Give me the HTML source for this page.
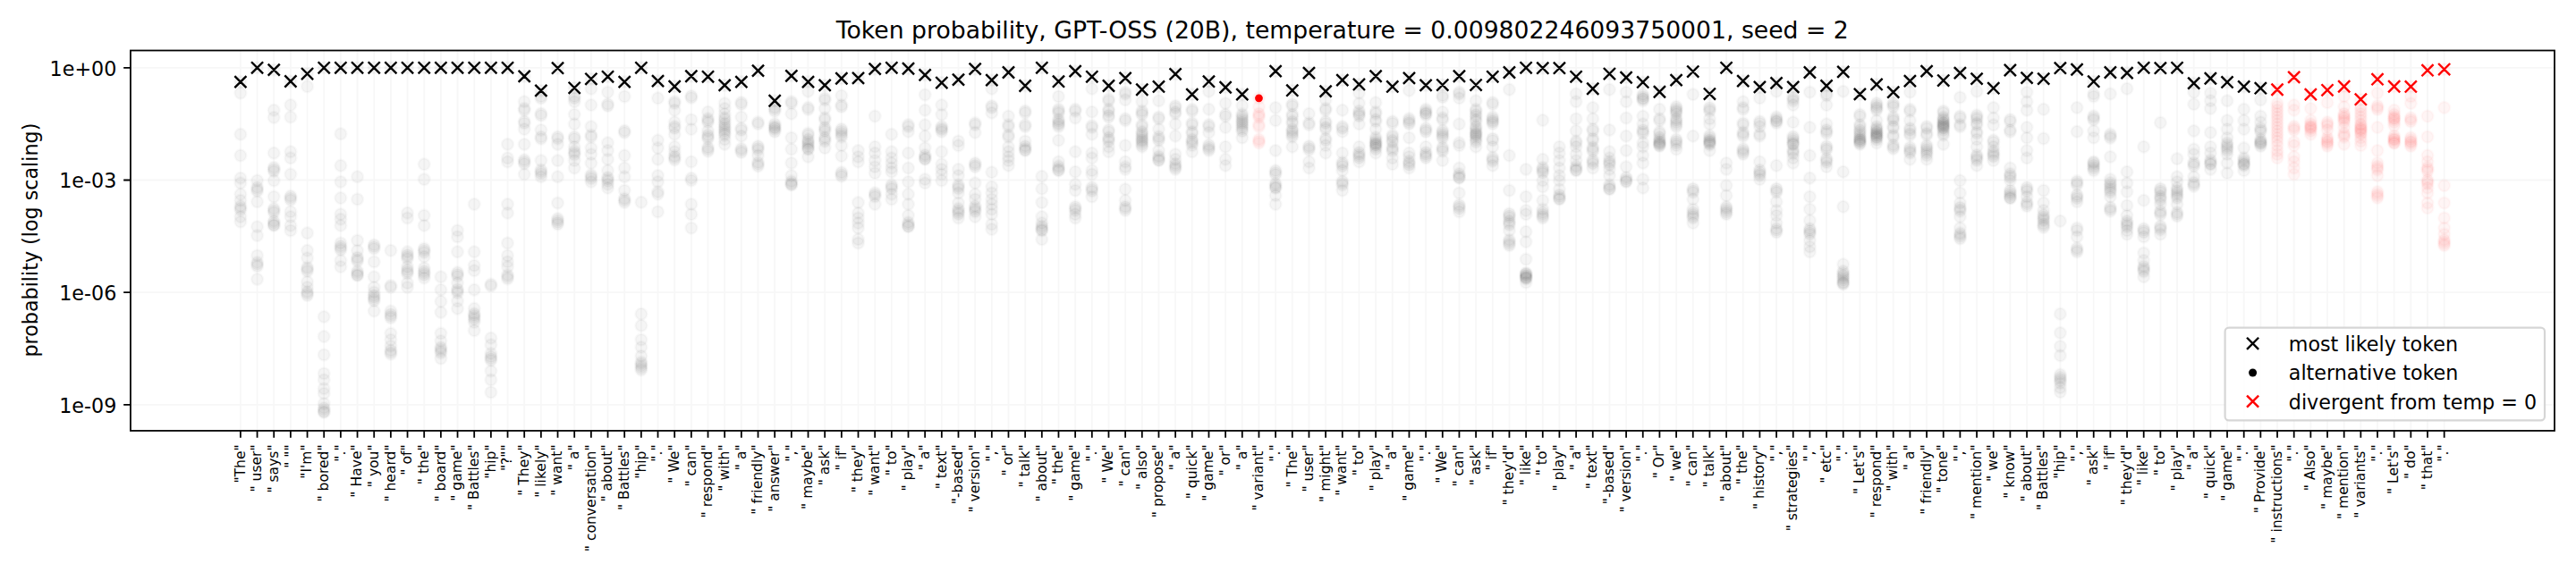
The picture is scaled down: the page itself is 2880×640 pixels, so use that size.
<!DOCTYPE html>
<html><head><meta charset="utf-8"><title>Token probability</title>
<style>html,body{margin:0;padding:0;background:#fff}body{width:2880px;height:640px;overflow:hidden}svg{display:block}</style>
</head><body>
<svg width="2880" height="640" viewBox="0 0 2880 640">
<rect width="2880" height="640" fill="#fff"/>
<path d="M268.90 56.5V481.95M287.56 56.5V481.95M306.23 56.5V481.95M324.89 56.5V481.95M343.56 56.5V481.95M362.22 56.5V481.95M380.89 56.5V481.95M399.55 56.5V481.95M418.22 56.5V481.95M436.88 56.5V481.95M455.55 56.5V481.95M474.21 56.5V481.95M492.88 56.5V481.95M511.54 56.5V481.95M530.21 56.5V481.95M548.88 56.5V481.95M567.54 56.5V481.95M586.20 56.5V481.95M604.87 56.5V481.95M623.53 56.5V481.95M642.20 56.5V481.95M660.87 56.5V481.95M679.53 56.5V481.95M698.19 56.5V481.95M716.86 56.5V481.95M735.52 56.5V481.95M754.19 56.5V481.95M772.86 56.5V481.95M791.52 56.5V481.95M810.18 56.5V481.95M828.85 56.5V481.95M847.51 56.5V481.95M866.18 56.5V481.95M884.84 56.5V481.95M903.51 56.5V481.95M922.17 56.5V481.95M940.84 56.5V481.95M959.50 56.5V481.95M978.17 56.5V481.95M996.83 56.5V481.95M1015.50 56.5V481.95M1034.16 56.5V481.95M1052.83 56.5V481.95M1071.49 56.5V481.95M1090.16 56.5V481.95M1108.82 56.5V481.95M1127.49 56.5V481.95M1146.15 56.5V481.95M1164.82 56.5V481.95M1183.48 56.5V481.95M1202.15 56.5V481.95M1220.82 56.5V481.95M1239.48 56.5V481.95M1258.14 56.5V481.95M1276.81 56.5V481.95M1295.47 56.5V481.95M1314.14 56.5V481.95M1332.80 56.5V481.95M1351.47 56.5V481.95M1370.13 56.5V481.95M1388.80 56.5V481.95M1407.47 56.5V481.95M1426.13 56.5V481.95M1444.80 56.5V481.95M1463.46 56.5V481.95M1482.12 56.5V481.95M1500.79 56.5V481.95M1519.45 56.5V481.95M1538.12 56.5V481.95M1556.78 56.5V481.95M1575.45 56.5V481.95M1594.11 56.5V481.95M1612.78 56.5V481.95M1631.44 56.5V481.95M1650.11 56.5V481.95M1668.78 56.5V481.95M1687.44 56.5V481.95M1706.11 56.5V481.95M1724.77 56.5V481.95M1743.43 56.5V481.95M1762.10 56.5V481.95M1780.76 56.5V481.95M1799.43 56.5V481.95M1818.09 56.5V481.95M1836.76 56.5V481.95M1855.42 56.5V481.95M1874.09 56.5V481.95M1892.76 56.5V481.95M1911.42 56.5V481.95M1930.09 56.5V481.95M1948.75 56.5V481.95M1967.41 56.5V481.95M1986.08 56.5V481.95M2004.74 56.5V481.95M2023.41 56.5V481.95M2042.07 56.5V481.95M2060.74 56.5V481.95M2079.40 56.5V481.95M2098.07 56.5V481.95M2116.73 56.5V481.95M2135.40 56.5V481.95M2154.07 56.5V481.95M2172.73 56.5V481.95M2191.39 56.5V481.95M2210.06 56.5V481.95M2228.72 56.5V481.95M2247.39 56.5V481.95M2266.05 56.5V481.95M2284.72 56.5V481.95M2303.38 56.5V481.95M2322.05 56.5V481.95M2340.72 56.5V481.95M2359.38 56.5V481.95M2378.05 56.5V481.95M2396.71 56.5V481.95M2415.38 56.5V481.95M2434.04 56.5V481.95M2452.70 56.5V481.95M2471.37 56.5V481.95M2490.03 56.5V481.95M2508.70 56.5V481.95M2527.36 56.5V481.95M2546.03 56.5V481.95M2564.70 56.5V481.95M2583.36 56.5V481.95M2602.03 56.5V481.95M2620.69 56.5V481.95M2639.36 56.5V481.95M2658.02 56.5V481.95M2676.68 56.5V481.95M2695.35 56.5V481.95M2714.01 56.5V481.95M2732.68 56.5V481.95M145.95 75.85H2856.0M145.95 201.5H2856.0M145.95 327.15H2856.0M145.95 452.95H2856.0" stroke="#b0b0b0" stroke-opacity="0.1" stroke-width="1.78" fill="none"/>
<g fill="#000" stroke="#000" fill-opacity="0.04" stroke-opacity="0.025" stroke-width="2.55">
<circle cx="268.9" cy="104.1" r="6.47"/>
<circle cx="268.9" cy="150.2" r="6.47"/>
<circle cx="268.9" cy="174.0" r="6.47"/>
<circle cx="268.9" cy="199.2" r="6.47"/>
<circle cx="268.9" cy="204.8" r="6.47"/>
<circle cx="268.9" cy="217.3" r="6.47"/>
<circle cx="268.9" cy="224.3" r="6.47"/>
<circle cx="268.9" cy="230.5" r="6.47"/>
<circle cx="268.9" cy="232.7" r="6.47"/>
<circle cx="268.9" cy="234.9" r="6.47"/>
<circle cx="268.9" cy="242.5" r="6.47"/>
<circle cx="268.9" cy="248.1" r="6.47"/>
<circle cx="268.9" cy="91.6" r="6.47"/>
<circle cx="287.6" cy="202.0" r="6.47"/>
<circle cx="287.6" cy="209.5" r="6.47"/>
<circle cx="287.6" cy="211.7" r="6.47"/>
<circle cx="287.6" cy="213.9" r="6.47"/>
<circle cx="287.6" cy="225.7" r="6.47"/>
<circle cx="287.6" cy="253.7" r="6.47"/>
<circle cx="287.6" cy="263.5" r="6.47"/>
<circle cx="287.6" cy="285.9" r="6.47"/>
<circle cx="287.6" cy="293.5" r="6.47"/>
<circle cx="287.6" cy="295.7" r="6.47"/>
<circle cx="287.6" cy="297.9" r="6.47"/>
<circle cx="287.6" cy="312.4" r="6.47"/>
<circle cx="287.6" cy="75.8" r="6.47"/>
<circle cx="306.2" cy="123.3" r="6.47"/>
<circle cx="306.2" cy="131.4" r="6.47"/>
<circle cx="306.2" cy="171.2" r="6.47"/>
<circle cx="306.2" cy="187.2" r="6.47"/>
<circle cx="306.2" cy="189.4" r="6.47"/>
<circle cx="306.2" cy="191.6" r="6.47"/>
<circle cx="306.2" cy="202.0" r="6.47"/>
<circle cx="306.2" cy="220.1" r="6.47"/>
<circle cx="306.2" cy="233.3" r="6.47"/>
<circle cx="306.2" cy="235.5" r="6.47"/>
<circle cx="306.2" cy="237.7" r="6.47"/>
<circle cx="306.2" cy="247.3" r="6.47"/>
<circle cx="306.2" cy="249.5" r="6.47"/>
<circle cx="306.2" cy="251.7" r="6.47"/>
<circle cx="306.2" cy="252.3" r="6.47"/>
<circle cx="306.2" cy="78.1" r="6.47"/>
<circle cx="324.9" cy="117.5" r="6.47"/>
<circle cx="324.9" cy="131.0" r="6.47"/>
<circle cx="324.9" cy="169.8" r="6.47"/>
<circle cx="324.9" cy="176.8" r="6.47"/>
<circle cx="324.9" cy="195.0" r="6.47"/>
<circle cx="324.9" cy="219.3" r="6.47"/>
<circle cx="324.9" cy="221.5" r="6.47"/>
<circle cx="324.9" cy="223.7" r="6.47"/>
<circle cx="324.9" cy="236.9" r="6.47"/>
<circle cx="324.9" cy="242.5" r="6.47"/>
<circle cx="324.9" cy="252.3" r="6.47"/>
<circle cx="324.9" cy="257.9" r="6.47"/>
<circle cx="324.9" cy="91.0" r="6.47"/>
<circle cx="343.6" cy="96.8" r="6.47"/>
<circle cx="343.6" cy="260.7" r="6.47"/>
<circle cx="343.6" cy="280.3" r="6.47"/>
<circle cx="343.6" cy="288.7" r="6.47"/>
<circle cx="343.6" cy="299.1" r="6.47"/>
<circle cx="343.6" cy="301.3" r="6.47"/>
<circle cx="343.6" cy="303.5" r="6.47"/>
<circle cx="343.6" cy="315.2" r="6.47"/>
<circle cx="343.6" cy="321.4" r="6.47"/>
<circle cx="343.6" cy="326.2" r="6.47"/>
<circle cx="343.6" cy="328.4" r="6.47"/>
<circle cx="343.6" cy="330.6" r="6.47"/>
<circle cx="343.6" cy="82.5" r="6.47"/>
<circle cx="362.2" cy="354.4" r="6.47"/>
<circle cx="362.2" cy="376.5" r="6.47"/>
<circle cx="362.2" cy="396.9" r="6.47"/>
<circle cx="362.2" cy="417.9" r="6.47"/>
<circle cx="362.2" cy="424.9" r="6.47"/>
<circle cx="362.2" cy="434.7" r="6.47"/>
<circle cx="362.2" cy="440.3" r="6.47"/>
<circle cx="362.2" cy="451.5" r="6.47"/>
<circle cx="362.2" cy="456.3" r="6.47"/>
<circle cx="362.2" cy="458.5" r="6.47"/>
<circle cx="362.2" cy="460.7" r="6.47"/>
<circle cx="362.2" cy="461.3" r="6.47"/>
<circle cx="362.2" cy="75.8" r="6.47"/>
<circle cx="380.9" cy="149.8" r="6.47"/>
<circle cx="380.9" cy="185.2" r="6.47"/>
<circle cx="380.9" cy="203.4" r="6.47"/>
<circle cx="380.9" cy="221.5" r="6.47"/>
<circle cx="380.9" cy="239.7" r="6.47"/>
<circle cx="380.9" cy="245.3" r="6.47"/>
<circle cx="380.9" cy="252.3" r="6.47"/>
<circle cx="380.9" cy="271.9" r="6.47"/>
<circle cx="380.9" cy="275.3" r="6.47"/>
<circle cx="380.9" cy="277.5" r="6.47"/>
<circle cx="380.9" cy="279.7" r="6.47"/>
<circle cx="380.9" cy="291.5" r="6.47"/>
<circle cx="380.9" cy="298.5" r="6.47"/>
<circle cx="380.9" cy="75.8" r="6.47"/>
<circle cx="399.6" cy="197.8" r="6.47"/>
<circle cx="399.6" cy="222.9" r="6.47"/>
<circle cx="399.6" cy="269.1" r="6.47"/>
<circle cx="399.6" cy="280.3" r="6.47"/>
<circle cx="399.6" cy="287.9" r="6.47"/>
<circle cx="399.6" cy="290.1" r="6.47"/>
<circle cx="399.6" cy="292.3" r="6.47"/>
<circle cx="399.6" cy="303.3" r="6.47"/>
<circle cx="399.6" cy="305.5" r="6.47"/>
<circle cx="399.6" cy="307.7" r="6.47"/>
<circle cx="399.6" cy="308.3" r="6.47"/>
<circle cx="399.6" cy="75.8" r="6.47"/>
<circle cx="418.2" cy="273.9" r="6.47"/>
<circle cx="418.2" cy="276.1" r="6.47"/>
<circle cx="418.2" cy="278.3" r="6.47"/>
<circle cx="418.2" cy="292.9" r="6.47"/>
<circle cx="418.2" cy="309.7" r="6.47"/>
<circle cx="418.2" cy="321.4" r="6.47"/>
<circle cx="418.2" cy="327.0" r="6.47"/>
<circle cx="418.2" cy="330.4" r="6.47"/>
<circle cx="418.2" cy="332.6" r="6.47"/>
<circle cx="418.2" cy="334.8" r="6.47"/>
<circle cx="418.2" cy="336.8" r="6.47"/>
<circle cx="418.2" cy="348.0" r="6.47"/>
<circle cx="418.2" cy="75.8" r="6.47"/>
<circle cx="436.9" cy="280.3" r="6.47"/>
<circle cx="436.9" cy="319.4" r="6.47"/>
<circle cx="436.9" cy="321.4" r="6.47"/>
<circle cx="436.9" cy="348.0" r="6.47"/>
<circle cx="436.9" cy="351.4" r="6.47"/>
<circle cx="436.9" cy="353.6" r="6.47"/>
<circle cx="436.9" cy="355.8" r="6.47"/>
<circle cx="436.9" cy="373.1" r="6.47"/>
<circle cx="436.9" cy="380.1" r="6.47"/>
<circle cx="436.9" cy="387.1" r="6.47"/>
<circle cx="436.9" cy="391.9" r="6.47"/>
<circle cx="436.9" cy="394.1" r="6.47"/>
<circle cx="436.9" cy="396.3" r="6.47"/>
<circle cx="436.9" cy="75.8" r="6.47"/>
<circle cx="455.5" cy="238.3" r="6.47"/>
<circle cx="455.5" cy="243.9" r="6.47"/>
<circle cx="455.5" cy="281.7" r="6.47"/>
<circle cx="455.5" cy="285.1" r="6.47"/>
<circle cx="455.5" cy="287.3" r="6.47"/>
<circle cx="455.5" cy="289.5" r="6.47"/>
<circle cx="455.5" cy="298.5" r="6.47"/>
<circle cx="455.5" cy="301.9" r="6.47"/>
<circle cx="455.5" cy="304.1" r="6.47"/>
<circle cx="455.5" cy="306.3" r="6.47"/>
<circle cx="455.5" cy="316.6" r="6.47"/>
<circle cx="455.5" cy="321.4" r="6.47"/>
<circle cx="455.5" cy="75.8" r="6.47"/>
<circle cx="474.2" cy="183.8" r="6.47"/>
<circle cx="474.2" cy="200.6" r="6.47"/>
<circle cx="474.2" cy="241.1" r="6.47"/>
<circle cx="474.2" cy="252.3" r="6.47"/>
<circle cx="474.2" cy="278.1" r="6.47"/>
<circle cx="474.2" cy="280.3" r="6.47"/>
<circle cx="474.2" cy="282.5" r="6.47"/>
<circle cx="474.2" cy="287.3" r="6.47"/>
<circle cx="474.2" cy="299.9" r="6.47"/>
<circle cx="474.2" cy="303.3" r="6.47"/>
<circle cx="474.2" cy="305.5" r="6.47"/>
<circle cx="474.2" cy="307.7" r="6.47"/>
<circle cx="474.2" cy="311.0" r="6.47"/>
<circle cx="474.2" cy="75.8" r="6.47"/>
<circle cx="492.9" cy="309.7" r="6.47"/>
<circle cx="492.9" cy="324.2" r="6.47"/>
<circle cx="492.9" cy="337.3" r="6.47"/>
<circle cx="492.9" cy="349.4" r="6.47"/>
<circle cx="492.9" cy="373.1" r="6.47"/>
<circle cx="492.9" cy="381.5" r="6.47"/>
<circle cx="492.9" cy="388.5" r="6.47"/>
<circle cx="492.9" cy="390.5" r="6.47"/>
<circle cx="492.9" cy="392.7" r="6.47"/>
<circle cx="492.9" cy="394.9" r="6.47"/>
<circle cx="492.9" cy="401.1" r="6.47"/>
<circle cx="492.9" cy="75.8" r="6.47"/>
<circle cx="511.5" cy="257.9" r="6.47"/>
<circle cx="511.5" cy="264.9" r="6.47"/>
<circle cx="511.5" cy="281.7" r="6.47"/>
<circle cx="511.5" cy="304.7" r="6.47"/>
<circle cx="511.5" cy="306.9" r="6.47"/>
<circle cx="511.5" cy="309.1" r="6.47"/>
<circle cx="511.5" cy="316.6" r="6.47"/>
<circle cx="511.5" cy="323.4" r="6.47"/>
<circle cx="511.5" cy="325.6" r="6.47"/>
<circle cx="511.5" cy="327.8" r="6.47"/>
<circle cx="511.5" cy="336.8" r="6.47"/>
<circle cx="511.5" cy="345.2" r="6.47"/>
<circle cx="511.5" cy="75.8" r="6.47"/>
<circle cx="530.2" cy="228.5" r="6.47"/>
<circle cx="530.2" cy="281.7" r="6.47"/>
<circle cx="530.2" cy="297.1" r="6.47"/>
<circle cx="530.2" cy="302.7" r="6.47"/>
<circle cx="530.2" cy="324.2" r="6.47"/>
<circle cx="530.2" cy="345.2" r="6.47"/>
<circle cx="530.2" cy="350.8" r="6.47"/>
<circle cx="530.2" cy="352.8" r="6.47"/>
<circle cx="530.2" cy="355.0" r="6.47"/>
<circle cx="530.2" cy="357.2" r="6.47"/>
<circle cx="530.2" cy="360.6" r="6.47"/>
<circle cx="530.2" cy="369.8" r="6.47"/>
<circle cx="530.2" cy="75.8" r="6.47"/>
<circle cx="548.9" cy="318.0" r="6.47"/>
<circle cx="548.9" cy="320.0" r="6.47"/>
<circle cx="548.9" cy="378.2" r="6.47"/>
<circle cx="548.9" cy="385.7" r="6.47"/>
<circle cx="548.9" cy="395.5" r="6.47"/>
<circle cx="548.9" cy="398.9" r="6.47"/>
<circle cx="548.9" cy="401.1" r="6.47"/>
<circle cx="548.9" cy="403.3" r="6.47"/>
<circle cx="548.9" cy="415.1" r="6.47"/>
<circle cx="548.9" cy="424.9" r="6.47"/>
<circle cx="548.9" cy="438.9" r="6.47"/>
<circle cx="548.9" cy="75.8" r="6.47"/>
<circle cx="567.5" cy="161.4" r="6.47"/>
<circle cx="567.5" cy="176.8" r="6.47"/>
<circle cx="567.5" cy="181.0" r="6.47"/>
<circle cx="567.5" cy="228.5" r="6.47"/>
<circle cx="567.5" cy="238.3" r="6.47"/>
<circle cx="567.5" cy="271.9" r="6.47"/>
<circle cx="567.5" cy="285.9" r="6.47"/>
<circle cx="567.5" cy="292.9" r="6.47"/>
<circle cx="567.5" cy="298.5" r="6.47"/>
<circle cx="567.5" cy="307.5" r="6.47"/>
<circle cx="567.5" cy="309.7" r="6.47"/>
<circle cx="567.5" cy="311.9" r="6.47"/>
<circle cx="567.5" cy="75.8" r="6.47"/>
<circle cx="586.2" cy="113.7" r="6.47"/>
<circle cx="586.2" cy="121.2" r="6.47"/>
<circle cx="586.2" cy="123.4" r="6.47"/>
<circle cx="586.2" cy="135.7" r="6.47"/>
<circle cx="586.2" cy="137.9" r="6.47"/>
<circle cx="586.2" cy="144.5" r="6.47"/>
<circle cx="586.2" cy="161.4" r="6.47"/>
<circle cx="586.2" cy="178.8" r="6.47"/>
<circle cx="586.2" cy="181.0" r="6.47"/>
<circle cx="586.2" cy="183.2" r="6.47"/>
<circle cx="586.2" cy="195.0" r="6.47"/>
<circle cx="586.2" cy="85.4" r="6.47"/>
<circle cx="604.9" cy="107.8" r="6.47"/>
<circle cx="604.9" cy="110.0" r="6.47"/>
<circle cx="604.9" cy="127.0" r="6.47"/>
<circle cx="604.9" cy="129.2" r="6.47"/>
<circle cx="604.9" cy="145.4" r="6.47"/>
<circle cx="604.9" cy="153.0" r="6.47"/>
<circle cx="604.9" cy="155.2" r="6.47"/>
<circle cx="604.9" cy="179.6" r="6.47"/>
<circle cx="604.9" cy="190.0" r="6.47"/>
<circle cx="604.9" cy="192.2" r="6.47"/>
<circle cx="604.9" cy="194.4" r="6.47"/>
<circle cx="604.9" cy="197.8" r="6.47"/>
<circle cx="604.9" cy="101.4" r="6.47"/>
<circle cx="623.5" cy="153.0" r="6.47"/>
<circle cx="623.5" cy="155.2" r="6.47"/>
<circle cx="623.5" cy="161.4" r="6.47"/>
<circle cx="623.5" cy="179.6" r="6.47"/>
<circle cx="623.5" cy="197.8" r="6.47"/>
<circle cx="623.5" cy="227.1" r="6.47"/>
<circle cx="623.5" cy="244.5" r="6.47"/>
<circle cx="623.5" cy="246.7" r="6.47"/>
<circle cx="623.5" cy="248.9" r="6.47"/>
<circle cx="623.5" cy="250.9" r="6.47"/>
<circle cx="623.5" cy="76.2" r="6.47"/>
<circle cx="642.2" cy="107.8" r="6.47"/>
<circle cx="642.2" cy="110.0" r="6.47"/>
<circle cx="642.2" cy="113.7" r="6.47"/>
<circle cx="642.2" cy="128.1" r="6.47"/>
<circle cx="642.2" cy="138.7" r="6.47"/>
<circle cx="642.2" cy="153.0" r="6.47"/>
<circle cx="642.2" cy="155.2" r="6.47"/>
<circle cx="642.2" cy="164.2" r="6.47"/>
<circle cx="642.2" cy="169.0" r="6.47"/>
<circle cx="642.2" cy="171.2" r="6.47"/>
<circle cx="642.2" cy="173.4" r="6.47"/>
<circle cx="642.2" cy="179.6" r="6.47"/>
<circle cx="642.2" cy="188.0" r="6.47"/>
<circle cx="642.2" cy="98.3" r="6.47"/>
<circle cx="660.9" cy="99.3" r="6.47"/>
<circle cx="660.9" cy="117.5" r="6.47"/>
<circle cx="660.9" cy="141.6" r="6.47"/>
<circle cx="660.9" cy="151.1" r="6.47"/>
<circle cx="660.9" cy="153.3" r="6.47"/>
<circle cx="660.9" cy="165.6" r="6.47"/>
<circle cx="660.9" cy="172.6" r="6.47"/>
<circle cx="660.9" cy="182.4" r="6.47"/>
<circle cx="660.9" cy="195.6" r="6.47"/>
<circle cx="660.9" cy="197.8" r="6.47"/>
<circle cx="660.9" cy="200.0" r="6.47"/>
<circle cx="660.9" cy="203.4" r="6.47"/>
<circle cx="660.9" cy="88.3" r="6.47"/>
<circle cx="679.5" cy="103.1" r="6.47"/>
<circle cx="679.5" cy="116.4" r="6.47"/>
<circle cx="679.5" cy="118.6" r="6.47"/>
<circle cx="679.5" cy="159.8" r="6.47"/>
<circle cx="679.5" cy="168.4" r="6.47"/>
<circle cx="679.5" cy="178.2" r="6.47"/>
<circle cx="679.5" cy="190.8" r="6.47"/>
<circle cx="679.5" cy="198.4" r="6.47"/>
<circle cx="679.5" cy="200.6" r="6.47"/>
<circle cx="679.5" cy="202.8" r="6.47"/>
<circle cx="679.5" cy="206.2" r="6.47"/>
<circle cx="679.5" cy="210.3" r="6.47"/>
<circle cx="679.5" cy="85.8" r="6.47"/>
<circle cx="698.2" cy="107.9" r="6.47"/>
<circle cx="698.2" cy="146.2" r="6.47"/>
<circle cx="698.2" cy="148.4" r="6.47"/>
<circle cx="698.2" cy="174.0" r="6.47"/>
<circle cx="698.2" cy="188.0" r="6.47"/>
<circle cx="698.2" cy="197.8" r="6.47"/>
<circle cx="698.2" cy="213.1" r="6.47"/>
<circle cx="698.2" cy="222.1" r="6.47"/>
<circle cx="698.2" cy="224.3" r="6.47"/>
<circle cx="698.2" cy="226.5" r="6.47"/>
<circle cx="698.2" cy="91.6" r="6.47"/>
<circle cx="716.9" cy="226.3" r="6.47"/>
<circle cx="716.9" cy="351.3" r="6.47"/>
<circle cx="716.9" cy="364.2" r="6.47"/>
<circle cx="716.9" cy="380.1" r="6.47"/>
<circle cx="716.9" cy="388.5" r="6.47"/>
<circle cx="716.9" cy="398.3" r="6.47"/>
<circle cx="716.9" cy="405.1" r="6.47"/>
<circle cx="716.9" cy="407.3" r="6.47"/>
<circle cx="716.9" cy="409.5" r="6.47"/>
<circle cx="716.9" cy="411.7" r="6.47"/>
<circle cx="716.9" cy="413.9" r="6.47"/>
<circle cx="716.9" cy="75.8" r="6.47"/>
<circle cx="735.5" cy="109.8" r="6.47"/>
<circle cx="735.5" cy="157.0" r="6.47"/>
<circle cx="735.5" cy="165.6" r="6.47"/>
<circle cx="735.5" cy="178.2" r="6.47"/>
<circle cx="735.5" cy="196.4" r="6.47"/>
<circle cx="735.5" cy="203.4" r="6.47"/>
<circle cx="735.5" cy="214.5" r="6.47"/>
<circle cx="735.5" cy="217.3" r="6.47"/>
<circle cx="735.5" cy="236.9" r="6.47"/>
<circle cx="735.5" cy="90.6" r="6.47"/>
<circle cx="754.2" cy="113.6" r="6.47"/>
<circle cx="754.2" cy="115.8" r="6.47"/>
<circle cx="754.2" cy="123.3" r="6.47"/>
<circle cx="754.2" cy="136.8" r="6.47"/>
<circle cx="754.2" cy="141.4" r="6.47"/>
<circle cx="754.2" cy="143.6" r="6.47"/>
<circle cx="754.2" cy="150.2" r="6.47"/>
<circle cx="754.2" cy="164.2" r="6.47"/>
<circle cx="754.2" cy="169.8" r="6.47"/>
<circle cx="754.2" cy="174.6" r="6.47"/>
<circle cx="754.2" cy="176.8" r="6.47"/>
<circle cx="754.2" cy="179.0" r="6.47"/>
<circle cx="754.2" cy="96.8" r="6.47"/>
<circle cx="772.9" cy="107.2" r="6.47"/>
<circle cx="772.9" cy="109.4" r="6.47"/>
<circle cx="772.9" cy="133.9" r="6.47"/>
<circle cx="772.9" cy="144.5" r="6.47"/>
<circle cx="772.9" cy="181.0" r="6.47"/>
<circle cx="772.9" cy="199.2" r="6.47"/>
<circle cx="772.9" cy="202.0" r="6.47"/>
<circle cx="772.9" cy="228.5" r="6.47"/>
<circle cx="772.9" cy="239.7" r="6.47"/>
<circle cx="772.9" cy="255.1" r="6.47"/>
<circle cx="772.9" cy="85.2" r="6.47"/>
<circle cx="791.5" cy="125.2" r="6.47"/>
<circle cx="791.5" cy="132.6" r="6.47"/>
<circle cx="791.5" cy="134.8" r="6.47"/>
<circle cx="791.5" cy="137.0" r="6.47"/>
<circle cx="791.5" cy="146.4" r="6.47"/>
<circle cx="791.5" cy="150.9" r="6.47"/>
<circle cx="791.5" cy="153.1" r="6.47"/>
<circle cx="791.5" cy="155.3" r="6.47"/>
<circle cx="791.5" cy="164.8" r="6.47"/>
<circle cx="791.5" cy="167.0" r="6.47"/>
<circle cx="791.5" cy="169.2" r="6.47"/>
<circle cx="791.5" cy="85.8" r="6.47"/>
<circle cx="810.2" cy="115.6" r="6.47"/>
<circle cx="810.2" cy="121.4" r="6.47"/>
<circle cx="810.2" cy="127.2" r="6.47"/>
<circle cx="810.2" cy="131.8" r="6.47"/>
<circle cx="810.2" cy="134.0" r="6.47"/>
<circle cx="810.2" cy="137.6" r="6.47"/>
<circle cx="810.2" cy="139.8" r="6.47"/>
<circle cx="810.2" cy="142.3" r="6.47"/>
<circle cx="810.2" cy="144.5" r="6.47"/>
<circle cx="810.2" cy="146.7" r="6.47"/>
<circle cx="810.2" cy="149.1" r="6.47"/>
<circle cx="810.2" cy="151.3" r="6.47"/>
<circle cx="810.2" cy="156.0" r="6.47"/>
<circle cx="810.2" cy="161.4" r="6.47"/>
<circle cx="810.2" cy="95.4" r="6.47"/>
<circle cx="828.8" cy="114.5" r="6.47"/>
<circle cx="828.8" cy="116.7" r="6.47"/>
<circle cx="828.8" cy="131.0" r="6.47"/>
<circle cx="828.8" cy="143.4" r="6.47"/>
<circle cx="828.8" cy="145.6" r="6.47"/>
<circle cx="828.8" cy="152.2" r="6.47"/>
<circle cx="828.8" cy="166.2" r="6.47"/>
<circle cx="828.8" cy="168.4" r="6.47"/>
<circle cx="828.8" cy="170.6" r="6.47"/>
<circle cx="828.8" cy="91.6" r="6.47"/>
<circle cx="847.5" cy="136.6" r="6.47"/>
<circle cx="847.5" cy="138.8" r="6.47"/>
<circle cx="847.5" cy="163.4" r="6.47"/>
<circle cx="847.5" cy="165.6" r="6.47"/>
<circle cx="847.5" cy="167.8" r="6.47"/>
<circle cx="847.5" cy="174.0" r="6.47"/>
<circle cx="847.5" cy="181.6" r="6.47"/>
<circle cx="847.5" cy="183.8" r="6.47"/>
<circle cx="847.5" cy="186.0" r="6.47"/>
<circle cx="847.5" cy="79.1" r="6.47"/>
<circle cx="866.2" cy="120.1" r="6.47"/>
<circle cx="866.2" cy="122.3" r="6.47"/>
<circle cx="866.2" cy="124.5" r="6.47"/>
<circle cx="866.2" cy="138.4" r="6.47"/>
<circle cx="866.2" cy="140.6" r="6.47"/>
<circle cx="866.2" cy="142.8" r="6.47"/>
<circle cx="866.2" cy="143.2" r="6.47"/>
<circle cx="866.2" cy="145.4" r="6.47"/>
<circle cx="866.2" cy="147.6" r="6.47"/>
<circle cx="866.2" cy="112.7" r="6.47"/>
<circle cx="884.8" cy="113.6" r="6.47"/>
<circle cx="884.8" cy="115.8" r="6.47"/>
<circle cx="884.8" cy="127.2" r="6.47"/>
<circle cx="884.8" cy="154.1" r="6.47"/>
<circle cx="884.8" cy="167.0" r="6.47"/>
<circle cx="884.8" cy="182.4" r="6.47"/>
<circle cx="884.8" cy="196.4" r="6.47"/>
<circle cx="884.8" cy="202.6" r="6.47"/>
<circle cx="884.8" cy="204.8" r="6.47"/>
<circle cx="884.8" cy="207.0" r="6.47"/>
<circle cx="884.8" cy="206.2" r="6.47"/>
<circle cx="884.8" cy="84.8" r="6.47"/>
<circle cx="903.5" cy="102.2" r="6.47"/>
<circle cx="903.5" cy="120.3" r="6.47"/>
<circle cx="903.5" cy="122.5" r="6.47"/>
<circle cx="903.5" cy="149.1" r="6.47"/>
<circle cx="903.5" cy="151.3" r="6.47"/>
<circle cx="903.5" cy="155.7" r="6.47"/>
<circle cx="903.5" cy="157.9" r="6.47"/>
<circle cx="903.5" cy="160.1" r="6.47"/>
<circle cx="903.5" cy="162.0" r="6.47"/>
<circle cx="903.5" cy="164.2" r="6.47"/>
<circle cx="903.5" cy="166.4" r="6.47"/>
<circle cx="903.5" cy="167.0" r="6.47"/>
<circle cx="903.5" cy="175.4" r="6.47"/>
<circle cx="903.5" cy="91.6" r="6.47"/>
<circle cx="922.2" cy="109.7" r="6.47"/>
<circle cx="922.2" cy="111.9" r="6.47"/>
<circle cx="922.2" cy="121.4" r="6.47"/>
<circle cx="922.2" cy="131.8" r="6.47"/>
<circle cx="922.2" cy="134.0" r="6.47"/>
<circle cx="922.2" cy="142.3" r="6.47"/>
<circle cx="922.2" cy="144.5" r="6.47"/>
<circle cx="922.2" cy="146.7" r="6.47"/>
<circle cx="922.2" cy="153.8" r="6.47"/>
<circle cx="922.2" cy="156.0" r="6.47"/>
<circle cx="922.2" cy="158.2" r="6.47"/>
<circle cx="922.2" cy="165.6" r="6.47"/>
<circle cx="922.2" cy="95.4" r="6.47"/>
<circle cx="940.8" cy="107.0" r="6.47"/>
<circle cx="940.8" cy="117.4" r="6.47"/>
<circle cx="940.8" cy="119.6" r="6.47"/>
<circle cx="940.8" cy="144.2" r="6.47"/>
<circle cx="940.8" cy="146.4" r="6.47"/>
<circle cx="940.8" cy="148.6" r="6.47"/>
<circle cx="940.8" cy="151.1" r="6.47"/>
<circle cx="940.8" cy="153.3" r="6.47"/>
<circle cx="940.8" cy="162.8" r="6.47"/>
<circle cx="940.8" cy="174.5" r="6.47"/>
<circle cx="940.8" cy="192.8" r="6.47"/>
<circle cx="940.8" cy="195.0" r="6.47"/>
<circle cx="940.8" cy="197.2" r="6.47"/>
<circle cx="940.8" cy="87.7" r="6.47"/>
<circle cx="959.5" cy="168.4" r="6.47"/>
<circle cx="959.5" cy="175.4" r="6.47"/>
<circle cx="959.5" cy="181.0" r="6.47"/>
<circle cx="959.5" cy="226.6" r="6.47"/>
<circle cx="959.5" cy="238.3" r="6.47"/>
<circle cx="959.5" cy="243.9" r="6.47"/>
<circle cx="959.5" cy="249.5" r="6.47"/>
<circle cx="959.5" cy="255.1" r="6.47"/>
<circle cx="959.5" cy="267.7" r="6.47"/>
<circle cx="959.5" cy="271.9" r="6.47"/>
<circle cx="959.5" cy="87.3" r="6.47"/>
<circle cx="978.2" cy="130.0" r="6.47"/>
<circle cx="978.2" cy="164.2" r="6.47"/>
<circle cx="978.2" cy="171.2" r="6.47"/>
<circle cx="978.2" cy="179.6" r="6.47"/>
<circle cx="978.2" cy="186.6" r="6.47"/>
<circle cx="978.2" cy="193.6" r="6.47"/>
<circle cx="978.2" cy="215.7" r="6.47"/>
<circle cx="978.2" cy="217.9" r="6.47"/>
<circle cx="978.2" cy="220.1" r="6.47"/>
<circle cx="978.2" cy="228.5" r="6.47"/>
<circle cx="978.2" cy="77.2" r="6.47"/>
<circle cx="996.8" cy="150.2" r="6.47"/>
<circle cx="996.8" cy="169.8" r="6.47"/>
<circle cx="996.8" cy="176.8" r="6.47"/>
<circle cx="996.8" cy="182.4" r="6.47"/>
<circle cx="996.8" cy="188.0" r="6.47"/>
<circle cx="996.8" cy="192.2" r="6.47"/>
<circle cx="996.8" cy="206.8" r="6.47"/>
<circle cx="996.8" cy="209.0" r="6.47"/>
<circle cx="996.8" cy="211.2" r="6.47"/>
<circle cx="996.8" cy="217.3" r="6.47"/>
<circle cx="996.8" cy="222.9" r="6.47"/>
<circle cx="996.8" cy="75.8" r="6.47"/>
<circle cx="1015.5" cy="139.5" r="6.47"/>
<circle cx="1015.5" cy="141.7" r="6.47"/>
<circle cx="1015.5" cy="147.3" r="6.47"/>
<circle cx="1015.5" cy="171.2" r="6.47"/>
<circle cx="1015.5" cy="188.0" r="6.47"/>
<circle cx="1015.5" cy="203.4" r="6.47"/>
<circle cx="1015.5" cy="217.3" r="6.47"/>
<circle cx="1015.5" cy="228.5" r="6.47"/>
<circle cx="1015.5" cy="241.1" r="6.47"/>
<circle cx="1015.5" cy="248.7" r="6.47"/>
<circle cx="1015.5" cy="250.9" r="6.47"/>
<circle cx="1015.5" cy="253.1" r="6.47"/>
<circle cx="1015.5" cy="253.7" r="6.47"/>
<circle cx="1015.5" cy="76.8" r="6.47"/>
<circle cx="1034.2" cy="106.0" r="6.47"/>
<circle cx="1034.2" cy="123.3" r="6.47"/>
<circle cx="1034.2" cy="139.7" r="6.47"/>
<circle cx="1034.2" cy="152.2" r="6.47"/>
<circle cx="1034.2" cy="165.6" r="6.47"/>
<circle cx="1034.2" cy="173.2" r="6.47"/>
<circle cx="1034.2" cy="175.4" r="6.47"/>
<circle cx="1034.2" cy="177.6" r="6.47"/>
<circle cx="1034.2" cy="178.2" r="6.47"/>
<circle cx="1034.2" cy="200.6" r="6.47"/>
<circle cx="1034.2" cy="204.8" r="6.47"/>
<circle cx="1034.2" cy="83.9" r="6.47"/>
<circle cx="1052.8" cy="117.5" r="6.47"/>
<circle cx="1052.8" cy="128.1" r="6.47"/>
<circle cx="1052.8" cy="141.4" r="6.47"/>
<circle cx="1052.8" cy="143.6" r="6.47"/>
<circle cx="1052.8" cy="145.3" r="6.47"/>
<circle cx="1052.8" cy="147.5" r="6.47"/>
<circle cx="1052.8" cy="169.8" r="6.47"/>
<circle cx="1052.8" cy="183.8" r="6.47"/>
<circle cx="1052.8" cy="189.4" r="6.47"/>
<circle cx="1052.8" cy="195.0" r="6.47"/>
<circle cx="1052.8" cy="202.0" r="6.47"/>
<circle cx="1052.8" cy="92.5" r="6.47"/>
<circle cx="1071.5" cy="157.9" r="6.47"/>
<circle cx="1071.5" cy="162.8" r="6.47"/>
<circle cx="1071.5" cy="189.4" r="6.47"/>
<circle cx="1071.5" cy="196.4" r="6.47"/>
<circle cx="1071.5" cy="206.8" r="6.47"/>
<circle cx="1071.5" cy="209.0" r="6.47"/>
<circle cx="1071.5" cy="211.2" r="6.47"/>
<circle cx="1071.5" cy="215.9" r="6.47"/>
<circle cx="1071.5" cy="227.1" r="6.47"/>
<circle cx="1071.5" cy="233.3" r="6.47"/>
<circle cx="1071.5" cy="235.5" r="6.47"/>
<circle cx="1071.5" cy="237.7" r="6.47"/>
<circle cx="1071.5" cy="239.7" r="6.47"/>
<circle cx="1071.5" cy="243.9" r="6.47"/>
<circle cx="1071.5" cy="89.1" r="6.47"/>
<circle cx="1090.2" cy="137.6" r="6.47"/>
<circle cx="1090.2" cy="139.8" r="6.47"/>
<circle cx="1090.2" cy="148.3" r="6.47"/>
<circle cx="1090.2" cy="182.4" r="6.47"/>
<circle cx="1090.2" cy="184.6" r="6.47"/>
<circle cx="1090.2" cy="186.8" r="6.47"/>
<circle cx="1090.2" cy="204.8" r="6.47"/>
<circle cx="1090.2" cy="217.3" r="6.47"/>
<circle cx="1090.2" cy="222.9" r="6.47"/>
<circle cx="1090.2" cy="230.5" r="6.47"/>
<circle cx="1090.2" cy="232.7" r="6.47"/>
<circle cx="1090.2" cy="234.9" r="6.47"/>
<circle cx="1090.2" cy="236.9" r="6.47"/>
<circle cx="1090.2" cy="242.5" r="6.47"/>
<circle cx="1090.2" cy="77.2" r="6.47"/>
<circle cx="1108.8" cy="99.3" r="6.47"/>
<circle cx="1108.8" cy="118.4" r="6.47"/>
<circle cx="1108.8" cy="120.6" r="6.47"/>
<circle cx="1108.8" cy="126.2" r="6.47"/>
<circle cx="1108.8" cy="192.7" r="6.47"/>
<circle cx="1108.8" cy="209.0" r="6.47"/>
<circle cx="1108.8" cy="215.9" r="6.47"/>
<circle cx="1108.8" cy="222.9" r="6.47"/>
<circle cx="1108.8" cy="228.5" r="6.47"/>
<circle cx="1108.8" cy="234.1" r="6.47"/>
<circle cx="1108.8" cy="239.7" r="6.47"/>
<circle cx="1108.8" cy="250.9" r="6.47"/>
<circle cx="1108.8" cy="256.5" r="6.47"/>
<circle cx="1108.8" cy="89.7" r="6.47"/>
<circle cx="1127.5" cy="130.0" r="6.47"/>
<circle cx="1127.5" cy="139.5" r="6.47"/>
<circle cx="1127.5" cy="141.7" r="6.47"/>
<circle cx="1127.5" cy="151.1" r="6.47"/>
<circle cx="1127.5" cy="153.3" r="6.47"/>
<circle cx="1127.5" cy="164.2" r="6.47"/>
<circle cx="1127.5" cy="169.8" r="6.47"/>
<circle cx="1127.5" cy="175.4" r="6.47"/>
<circle cx="1127.5" cy="179.6" r="6.47"/>
<circle cx="1127.5" cy="185.2" r="6.47"/>
<circle cx="1127.5" cy="81.0" r="6.47"/>
<circle cx="1146.2" cy="124.1" r="6.47"/>
<circle cx="1146.2" cy="126.3" r="6.47"/>
<circle cx="1146.2" cy="139.5" r="6.47"/>
<circle cx="1146.2" cy="141.7" r="6.47"/>
<circle cx="1146.2" cy="157.9" r="6.47"/>
<circle cx="1146.2" cy="163.4" r="6.47"/>
<circle cx="1146.2" cy="165.6" r="6.47"/>
<circle cx="1146.2" cy="167.8" r="6.47"/>
<circle cx="1146.2" cy="168.4" r="6.47"/>
<circle cx="1146.2" cy="96.0" r="6.47"/>
<circle cx="1164.8" cy="197.2" r="6.47"/>
<circle cx="1164.8" cy="211.2" r="6.47"/>
<circle cx="1164.8" cy="226.6" r="6.47"/>
<circle cx="1164.8" cy="242.5" r="6.47"/>
<circle cx="1164.8" cy="249.5" r="6.47"/>
<circle cx="1164.8" cy="252.9" r="6.47"/>
<circle cx="1164.8" cy="255.1" r="6.47"/>
<circle cx="1164.8" cy="257.3" r="6.47"/>
<circle cx="1164.8" cy="257.9" r="6.47"/>
<circle cx="1164.8" cy="267.7" r="6.47"/>
<circle cx="1164.8" cy="75.8" r="6.47"/>
<circle cx="1183.5" cy="107.9" r="6.47"/>
<circle cx="1183.5" cy="122.1" r="6.47"/>
<circle cx="1183.5" cy="124.3" r="6.47"/>
<circle cx="1183.5" cy="126.5" r="6.47"/>
<circle cx="1183.5" cy="133.6" r="6.47"/>
<circle cx="1183.5" cy="135.8" r="6.47"/>
<circle cx="1183.5" cy="138.0" r="6.47"/>
<circle cx="1183.5" cy="139.5" r="6.47"/>
<circle cx="1183.5" cy="141.7" r="6.47"/>
<circle cx="1183.5" cy="157.0" r="6.47"/>
<circle cx="1183.5" cy="181.0" r="6.47"/>
<circle cx="1183.5" cy="185.8" r="6.47"/>
<circle cx="1183.5" cy="188.0" r="6.47"/>
<circle cx="1183.5" cy="190.2" r="6.47"/>
<circle cx="1183.5" cy="190.8" r="6.47"/>
<circle cx="1183.5" cy="91.2" r="6.47"/>
<circle cx="1202.2" cy="122.2" r="6.47"/>
<circle cx="1202.2" cy="124.4" r="6.47"/>
<circle cx="1202.2" cy="132.0" r="6.47"/>
<circle cx="1202.2" cy="169.8" r="6.47"/>
<circle cx="1202.2" cy="192.2" r="6.47"/>
<circle cx="1202.2" cy="206.2" r="6.47"/>
<circle cx="1202.2" cy="213.1" r="6.47"/>
<circle cx="1202.2" cy="231.1" r="6.47"/>
<circle cx="1202.2" cy="233.3" r="6.47"/>
<circle cx="1202.2" cy="235.5" r="6.47"/>
<circle cx="1202.2" cy="239.7" r="6.47"/>
<circle cx="1202.2" cy="243.9" r="6.47"/>
<circle cx="1202.2" cy="79.7" r="6.47"/>
<circle cx="1220.8" cy="99.3" r="6.47"/>
<circle cx="1220.8" cy="125.2" r="6.47"/>
<circle cx="1220.8" cy="140.5" r="6.47"/>
<circle cx="1220.8" cy="142.7" r="6.47"/>
<circle cx="1220.8" cy="150.2" r="6.47"/>
<circle cx="1220.8" cy="171.2" r="6.47"/>
<circle cx="1220.8" cy="176.8" r="6.47"/>
<circle cx="1220.8" cy="190.8" r="6.47"/>
<circle cx="1220.8" cy="195.0" r="6.47"/>
<circle cx="1220.8" cy="209.5" r="6.47"/>
<circle cx="1220.8" cy="211.7" r="6.47"/>
<circle cx="1220.8" cy="213.9" r="6.47"/>
<circle cx="1220.8" cy="220.1" r="6.47"/>
<circle cx="1220.8" cy="85.8" r="6.47"/>
<circle cx="1239.5" cy="110.7" r="6.47"/>
<circle cx="1239.5" cy="112.9" r="6.47"/>
<circle cx="1239.5" cy="122.2" r="6.47"/>
<circle cx="1239.5" cy="124.4" r="6.47"/>
<circle cx="1239.5" cy="128.9" r="6.47"/>
<circle cx="1239.5" cy="131.1" r="6.47"/>
<circle cx="1239.5" cy="145.3" r="6.47"/>
<circle cx="1239.5" cy="147.5" r="6.47"/>
<circle cx="1239.5" cy="153.8" r="6.47"/>
<circle cx="1239.5" cy="156.0" r="6.47"/>
<circle cx="1239.5" cy="158.2" r="6.47"/>
<circle cx="1239.5" cy="164.2" r="6.47"/>
<circle cx="1239.5" cy="169.8" r="6.47"/>
<circle cx="1239.5" cy="96.0" r="6.47"/>
<circle cx="1258.1" cy="103.0" r="6.47"/>
<circle cx="1258.1" cy="105.2" r="6.47"/>
<circle cx="1258.1" cy="111.8" r="6.47"/>
<circle cx="1258.1" cy="132.8" r="6.47"/>
<circle cx="1258.1" cy="135.0" r="6.47"/>
<circle cx="1258.1" cy="162.8" r="6.47"/>
<circle cx="1258.1" cy="181.0" r="6.47"/>
<circle cx="1258.1" cy="186.6" r="6.47"/>
<circle cx="1258.1" cy="189.4" r="6.47"/>
<circle cx="1258.1" cy="211.7" r="6.47"/>
<circle cx="1258.1" cy="224.3" r="6.47"/>
<circle cx="1258.1" cy="231.1" r="6.47"/>
<circle cx="1258.1" cy="233.3" r="6.47"/>
<circle cx="1258.1" cy="235.5" r="6.47"/>
<circle cx="1258.1" cy="87.3" r="6.47"/>
<circle cx="1276.8" cy="113.7" r="6.47"/>
<circle cx="1276.8" cy="124.0" r="6.47"/>
<circle cx="1276.8" cy="126.2" r="6.47"/>
<circle cx="1276.8" cy="128.4" r="6.47"/>
<circle cx="1276.8" cy="139.5" r="6.47"/>
<circle cx="1276.8" cy="141.7" r="6.47"/>
<circle cx="1276.8" cy="147.2" r="6.47"/>
<circle cx="1276.8" cy="149.4" r="6.47"/>
<circle cx="1276.8" cy="151.9" r="6.47"/>
<circle cx="1276.8" cy="154.1" r="6.47"/>
<circle cx="1276.8" cy="156.3" r="6.47"/>
<circle cx="1276.8" cy="157.6" r="6.47"/>
<circle cx="1276.8" cy="159.8" r="6.47"/>
<circle cx="1276.8" cy="162.0" r="6.47"/>
<circle cx="1276.8" cy="164.2" r="6.47"/>
<circle cx="1276.8" cy="100.2" r="6.47"/>
<circle cx="1295.5" cy="112.7" r="6.47"/>
<circle cx="1295.5" cy="130.9" r="6.47"/>
<circle cx="1295.5" cy="133.1" r="6.47"/>
<circle cx="1295.5" cy="144.5" r="6.47"/>
<circle cx="1295.5" cy="152.8" r="6.47"/>
<circle cx="1295.5" cy="155.0" r="6.47"/>
<circle cx="1295.5" cy="157.2" r="6.47"/>
<circle cx="1295.5" cy="168.4" r="6.47"/>
<circle cx="1295.5" cy="174.6" r="6.47"/>
<circle cx="1295.5" cy="176.8" r="6.47"/>
<circle cx="1295.5" cy="179.0" r="6.47"/>
<circle cx="1295.5" cy="179.6" r="6.47"/>
<circle cx="1295.5" cy="97.0" r="6.47"/>
<circle cx="1314.1" cy="118.4" r="6.47"/>
<circle cx="1314.1" cy="120.6" r="6.47"/>
<circle cx="1314.1" cy="125.1" r="6.47"/>
<circle cx="1314.1" cy="127.3" r="6.47"/>
<circle cx="1314.1" cy="138.7" r="6.47"/>
<circle cx="1314.1" cy="152.2" r="6.47"/>
<circle cx="1314.1" cy="172.6" r="6.47"/>
<circle cx="1314.1" cy="178.2" r="6.47"/>
<circle cx="1314.1" cy="183.0" r="6.47"/>
<circle cx="1314.1" cy="185.2" r="6.47"/>
<circle cx="1314.1" cy="187.4" r="6.47"/>
<circle cx="1314.1" cy="189.4" r="6.47"/>
<circle cx="1314.1" cy="82.9" r="6.47"/>
<circle cx="1332.8" cy="122.2" r="6.47"/>
<circle cx="1332.8" cy="124.4" r="6.47"/>
<circle cx="1332.8" cy="137.6" r="6.47"/>
<circle cx="1332.8" cy="139.8" r="6.47"/>
<circle cx="1332.8" cy="147.2" r="6.47"/>
<circle cx="1332.8" cy="149.4" r="6.47"/>
<circle cx="1332.8" cy="155.7" r="6.47"/>
<circle cx="1332.8" cy="157.9" r="6.47"/>
<circle cx="1332.8" cy="160.1" r="6.47"/>
<circle cx="1332.8" cy="162.8" r="6.47"/>
<circle cx="1332.8" cy="169.8" r="6.47"/>
<circle cx="1332.8" cy="105.6" r="6.47"/>
<circle cx="1351.5" cy="102.2" r="6.47"/>
<circle cx="1351.5" cy="122.3" r="6.47"/>
<circle cx="1351.5" cy="139.5" r="6.47"/>
<circle cx="1351.5" cy="141.7" r="6.47"/>
<circle cx="1351.5" cy="148.3" r="6.47"/>
<circle cx="1351.5" cy="162.0" r="6.47"/>
<circle cx="1351.5" cy="164.2" r="6.47"/>
<circle cx="1351.5" cy="166.4" r="6.47"/>
<circle cx="1351.5" cy="168.4" r="6.47"/>
<circle cx="1351.5" cy="91.2" r="6.47"/>
<circle cx="1370.1" cy="115.6" r="6.47"/>
<circle cx="1370.1" cy="128.0" r="6.47"/>
<circle cx="1370.1" cy="130.2" r="6.47"/>
<circle cx="1370.1" cy="142.5" r="6.47"/>
<circle cx="1370.1" cy="164.2" r="6.47"/>
<circle cx="1370.1" cy="178.2" r="6.47"/>
<circle cx="1370.1" cy="185.2" r="6.47"/>
<circle cx="1370.1" cy="97.7" r="6.47"/>
<circle cx="1388.8" cy="118.5" r="6.47"/>
<circle cx="1388.8" cy="127.6" r="6.47"/>
<circle cx="1388.8" cy="129.8" r="6.47"/>
<circle cx="1388.8" cy="132.0" r="6.47"/>
<circle cx="1388.8" cy="134.2" r="6.47"/>
<circle cx="1388.8" cy="136.4" r="6.47"/>
<circle cx="1388.8" cy="138.1" r="6.47"/>
<circle cx="1388.8" cy="140.3" r="6.47"/>
<circle cx="1388.8" cy="142.5" r="6.47"/>
<circle cx="1388.8" cy="144.7" r="6.47"/>
<circle cx="1388.8" cy="146.9" r="6.47"/>
<circle cx="1388.8" cy="154.1" r="6.47"/>
<circle cx="1388.8" cy="105.6" r="6.47"/>
<circle cx="1426.1" cy="120.4" r="6.47"/>
<circle cx="1426.1" cy="134.8" r="6.47"/>
<circle cx="1426.1" cy="168.4" r="6.47"/>
<circle cx="1426.1" cy="190.8" r="6.47"/>
<circle cx="1426.1" cy="193.0" r="6.47"/>
<circle cx="1426.1" cy="195.2" r="6.47"/>
<circle cx="1426.1" cy="205.4" r="6.47"/>
<circle cx="1426.1" cy="207.6" r="6.47"/>
<circle cx="1426.1" cy="209.8" r="6.47"/>
<circle cx="1426.1" cy="210.3" r="6.47"/>
<circle cx="1426.1" cy="218.7" r="6.47"/>
<circle cx="1426.1" cy="228.5" r="6.47"/>
<circle cx="1426.1" cy="79.7" r="6.47"/>
<circle cx="1444.8" cy="116.4" r="6.47"/>
<circle cx="1444.8" cy="118.6" r="6.47"/>
<circle cx="1444.8" cy="128.0" r="6.47"/>
<circle cx="1444.8" cy="130.2" r="6.47"/>
<circle cx="1444.8" cy="135.7" r="6.47"/>
<circle cx="1444.8" cy="137.9" r="6.47"/>
<circle cx="1444.8" cy="144.2" r="6.47"/>
<circle cx="1444.8" cy="146.4" r="6.47"/>
<circle cx="1444.8" cy="148.6" r="6.47"/>
<circle cx="1444.8" cy="151.1" r="6.47"/>
<circle cx="1444.8" cy="153.3" r="6.47"/>
<circle cx="1444.8" cy="164.2" r="6.47"/>
<circle cx="1444.8" cy="101.2" r="6.47"/>
<circle cx="1463.5" cy="127.2" r="6.47"/>
<circle cx="1463.5" cy="137.6" r="6.47"/>
<circle cx="1463.5" cy="139.8" r="6.47"/>
<circle cx="1463.5" cy="163.4" r="6.47"/>
<circle cx="1463.5" cy="165.6" r="6.47"/>
<circle cx="1463.5" cy="167.8" r="6.47"/>
<circle cx="1463.5" cy="181.0" r="6.47"/>
<circle cx="1463.5" cy="188.0" r="6.47"/>
<circle cx="1463.5" cy="81.6" r="6.47"/>
<circle cx="1482.1" cy="111.8" r="6.47"/>
<circle cx="1482.1" cy="121.2" r="6.47"/>
<circle cx="1482.1" cy="123.4" r="6.47"/>
<circle cx="1482.1" cy="135.7" r="6.47"/>
<circle cx="1482.1" cy="137.9" r="6.47"/>
<circle cx="1482.1" cy="142.4" r="6.47"/>
<circle cx="1482.1" cy="144.6" r="6.47"/>
<circle cx="1482.1" cy="154.9" r="6.47"/>
<circle cx="1482.1" cy="157.1" r="6.47"/>
<circle cx="1482.1" cy="162.8" r="6.47"/>
<circle cx="1482.1" cy="171.2" r="6.47"/>
<circle cx="1482.1" cy="102.2" r="6.47"/>
<circle cx="1500.8" cy="123.3" r="6.47"/>
<circle cx="1500.8" cy="141.4" r="6.47"/>
<circle cx="1500.8" cy="143.6" r="6.47"/>
<circle cx="1500.8" cy="147.3" r="6.47"/>
<circle cx="1500.8" cy="171.2" r="6.47"/>
<circle cx="1500.8" cy="181.6" r="6.47"/>
<circle cx="1500.8" cy="183.8" r="6.47"/>
<circle cx="1500.8" cy="186.0" r="6.47"/>
<circle cx="1500.8" cy="190.8" r="6.47"/>
<circle cx="1500.8" cy="202.6" r="6.47"/>
<circle cx="1500.8" cy="204.8" r="6.47"/>
<circle cx="1500.8" cy="207.0" r="6.47"/>
<circle cx="1500.8" cy="213.1" r="6.47"/>
<circle cx="1500.8" cy="89.7" r="6.47"/>
<circle cx="1519.5" cy="104.1" r="6.47"/>
<circle cx="1519.5" cy="115.6" r="6.47"/>
<circle cx="1519.5" cy="124.0" r="6.47"/>
<circle cx="1519.5" cy="126.2" r="6.47"/>
<circle cx="1519.5" cy="128.4" r="6.47"/>
<circle cx="1519.5" cy="130.0" r="6.47"/>
<circle cx="1519.5" cy="138.7" r="6.47"/>
<circle cx="1519.5" cy="164.2" r="6.47"/>
<circle cx="1519.5" cy="170.4" r="6.47"/>
<circle cx="1519.5" cy="172.6" r="6.47"/>
<circle cx="1519.5" cy="174.8" r="6.47"/>
<circle cx="1519.5" cy="176.8" r="6.47"/>
<circle cx="1519.5" cy="181.0" r="6.47"/>
<circle cx="1519.5" cy="94.5" r="6.47"/>
<circle cx="1538.1" cy="114.7" r="6.47"/>
<circle cx="1538.1" cy="125.1" r="6.47"/>
<circle cx="1538.1" cy="127.3" r="6.47"/>
<circle cx="1538.1" cy="133.7" r="6.47"/>
<circle cx="1538.1" cy="135.9" r="6.47"/>
<circle cx="1538.1" cy="144.5" r="6.47"/>
<circle cx="1538.1" cy="153.5" r="6.47"/>
<circle cx="1538.1" cy="155.7" r="6.47"/>
<circle cx="1538.1" cy="157.9" r="6.47"/>
<circle cx="1538.1" cy="160.1" r="6.47"/>
<circle cx="1538.1" cy="162.3" r="6.47"/>
<circle cx="1538.1" cy="160.6" r="6.47"/>
<circle cx="1538.1" cy="162.8" r="6.47"/>
<circle cx="1538.1" cy="165.0" r="6.47"/>
<circle cx="1538.1" cy="167.0" r="6.47"/>
<circle cx="1538.1" cy="171.2" r="6.47"/>
<circle cx="1538.1" cy="85.2" r="6.47"/>
<circle cx="1556.8" cy="135.7" r="6.47"/>
<circle cx="1556.8" cy="137.9" r="6.47"/>
<circle cx="1556.8" cy="151.1" r="6.47"/>
<circle cx="1556.8" cy="153.3" r="6.47"/>
<circle cx="1556.8" cy="156.8" r="6.47"/>
<circle cx="1556.8" cy="159.0" r="6.47"/>
<circle cx="1556.8" cy="164.8" r="6.47"/>
<circle cx="1556.8" cy="167.0" r="6.47"/>
<circle cx="1556.8" cy="169.2" r="6.47"/>
<circle cx="1556.8" cy="176.8" r="6.47"/>
<circle cx="1556.8" cy="183.8" r="6.47"/>
<circle cx="1556.8" cy="97.0" r="6.47"/>
<circle cx="1575.4" cy="101.2" r="6.47"/>
<circle cx="1575.4" cy="132.6" r="6.47"/>
<circle cx="1575.4" cy="134.8" r="6.47"/>
<circle cx="1575.4" cy="137.0" r="6.47"/>
<circle cx="1575.4" cy="138.7" r="6.47"/>
<circle cx="1575.4" cy="154.1" r="6.47"/>
<circle cx="1575.4" cy="171.2" r="6.47"/>
<circle cx="1575.4" cy="175.4" r="6.47"/>
<circle cx="1575.4" cy="180.2" r="6.47"/>
<circle cx="1575.4" cy="182.4" r="6.47"/>
<circle cx="1575.4" cy="184.6" r="6.47"/>
<circle cx="1575.4" cy="188.0" r="6.47"/>
<circle cx="1575.4" cy="87.3" r="6.47"/>
<circle cx="1594.1" cy="122.1" r="6.47"/>
<circle cx="1594.1" cy="124.3" r="6.47"/>
<circle cx="1594.1" cy="126.5" r="6.47"/>
<circle cx="1594.1" cy="127.0" r="6.47"/>
<circle cx="1594.1" cy="129.2" r="6.47"/>
<circle cx="1594.1" cy="143.2" r="6.47"/>
<circle cx="1594.1" cy="145.4" r="6.47"/>
<circle cx="1594.1" cy="147.6" r="6.47"/>
<circle cx="1594.1" cy="164.2" r="6.47"/>
<circle cx="1594.1" cy="170.4" r="6.47"/>
<circle cx="1594.1" cy="172.6" r="6.47"/>
<circle cx="1594.1" cy="174.8" r="6.47"/>
<circle cx="1594.1" cy="176.8" r="6.47"/>
<circle cx="1594.1" cy="95.4" r="6.47"/>
<circle cx="1612.8" cy="106.8" r="6.47"/>
<circle cx="1612.8" cy="109.0" r="6.47"/>
<circle cx="1612.8" cy="125.2" r="6.47"/>
<circle cx="1612.8" cy="131.8" r="6.47"/>
<circle cx="1612.8" cy="134.0" r="6.47"/>
<circle cx="1612.8" cy="145.8" r="6.47"/>
<circle cx="1612.8" cy="148.0" r="6.47"/>
<circle cx="1612.8" cy="150.2" r="6.47"/>
<circle cx="1612.8" cy="152.4" r="6.47"/>
<circle cx="1612.8" cy="154.6" r="6.47"/>
<circle cx="1612.8" cy="164.8" r="6.47"/>
<circle cx="1612.8" cy="167.0" r="6.47"/>
<circle cx="1612.8" cy="169.2" r="6.47"/>
<circle cx="1612.8" cy="179.6" r="6.47"/>
<circle cx="1612.8" cy="95.0" r="6.47"/>
<circle cx="1631.4" cy="103.0" r="6.47"/>
<circle cx="1631.4" cy="105.2" r="6.47"/>
<circle cx="1631.4" cy="109.8" r="6.47"/>
<circle cx="1631.4" cy="138.7" r="6.47"/>
<circle cx="1631.4" cy="159.8" r="6.47"/>
<circle cx="1631.4" cy="162.8" r="6.47"/>
<circle cx="1631.4" cy="188.0" r="6.47"/>
<circle cx="1631.4" cy="194.2" r="6.47"/>
<circle cx="1631.4" cy="196.4" r="6.47"/>
<circle cx="1631.4" cy="198.6" r="6.47"/>
<circle cx="1631.4" cy="199.2" r="6.47"/>
<circle cx="1631.4" cy="215.9" r="6.47"/>
<circle cx="1631.4" cy="229.1" r="6.47"/>
<circle cx="1631.4" cy="231.3" r="6.47"/>
<circle cx="1631.4" cy="233.5" r="6.47"/>
<circle cx="1631.4" cy="236.9" r="6.47"/>
<circle cx="1631.4" cy="85.2" r="6.47"/>
<circle cx="1650.1" cy="112.7" r="6.47"/>
<circle cx="1650.1" cy="122.2" r="6.47"/>
<circle cx="1650.1" cy="124.4" r="6.47"/>
<circle cx="1650.1" cy="128.0" r="6.47"/>
<circle cx="1650.1" cy="130.2" r="6.47"/>
<circle cx="1650.1" cy="133.7" r="6.47"/>
<circle cx="1650.1" cy="135.9" r="6.47"/>
<circle cx="1650.1" cy="141.4" r="6.47"/>
<circle cx="1650.1" cy="143.6" r="6.47"/>
<circle cx="1650.1" cy="146.1" r="6.47"/>
<circle cx="1650.1" cy="148.3" r="6.47"/>
<circle cx="1650.1" cy="150.5" r="6.47"/>
<circle cx="1650.1" cy="150.0" r="6.47"/>
<circle cx="1650.1" cy="152.2" r="6.47"/>
<circle cx="1650.1" cy="154.4" r="6.47"/>
<circle cx="1650.1" cy="156.8" r="6.47"/>
<circle cx="1650.1" cy="159.0" r="6.47"/>
<circle cx="1650.1" cy="164.2" r="6.47"/>
<circle cx="1650.1" cy="95.0" r="6.47"/>
<circle cx="1668.8" cy="114.5" r="6.47"/>
<circle cx="1668.8" cy="116.7" r="6.47"/>
<circle cx="1668.8" cy="130.7" r="6.47"/>
<circle cx="1668.8" cy="132.9" r="6.47"/>
<circle cx="1668.8" cy="135.1" r="6.47"/>
<circle cx="1668.8" cy="136.6" r="6.47"/>
<circle cx="1668.8" cy="138.8" r="6.47"/>
<circle cx="1668.8" cy="154.9" r="6.47"/>
<circle cx="1668.8" cy="157.1" r="6.47"/>
<circle cx="1668.8" cy="164.2" r="6.47"/>
<circle cx="1668.8" cy="176.0" r="6.47"/>
<circle cx="1668.8" cy="178.2" r="6.47"/>
<circle cx="1668.8" cy="180.4" r="6.47"/>
<circle cx="1668.8" cy="185.2" r="6.47"/>
<circle cx="1668.8" cy="85.8" r="6.47"/>
<circle cx="1687.4" cy="100.2" r="6.47"/>
<circle cx="1687.4" cy="174.0" r="6.47"/>
<circle cx="1687.4" cy="213.1" r="6.47"/>
<circle cx="1687.4" cy="238.9" r="6.47"/>
<circle cx="1687.4" cy="241.1" r="6.47"/>
<circle cx="1687.4" cy="243.3" r="6.47"/>
<circle cx="1687.4" cy="247.3" r="6.47"/>
<circle cx="1687.4" cy="249.5" r="6.47"/>
<circle cx="1687.4" cy="251.7" r="6.47"/>
<circle cx="1687.4" cy="257.9" r="6.47"/>
<circle cx="1687.4" cy="268.3" r="6.47"/>
<circle cx="1687.4" cy="270.5" r="6.47"/>
<circle cx="1687.4" cy="272.7" r="6.47"/>
<circle cx="1687.4" cy="274.7" r="6.47"/>
<circle cx="1687.4" cy="81.0" r="6.47"/>
<circle cx="1706.1" cy="189.4" r="6.47"/>
<circle cx="1706.1" cy="220.1" r="6.47"/>
<circle cx="1706.1" cy="235.5" r="6.47"/>
<circle cx="1706.1" cy="239.7" r="6.47"/>
<circle cx="1706.1" cy="259.3" r="6.47"/>
<circle cx="1706.1" cy="270.5" r="6.47"/>
<circle cx="1706.1" cy="290.1" r="6.47"/>
<circle cx="1706.1" cy="305.5" r="6.47"/>
<circle cx="1706.1" cy="306.1" r="6.47"/>
<circle cx="1706.1" cy="308.3" r="6.47"/>
<circle cx="1706.1" cy="310.5" r="6.47"/>
<circle cx="1706.1" cy="311.0" r="6.47"/>
<circle cx="1706.1" cy="307.8" r="6.47"/>
<circle cx="1706.1" cy="310.0" r="6.47"/>
<circle cx="1706.1" cy="312.2" r="6.47"/>
<circle cx="1706.1" cy="316.0" r="6.47"/>
<circle cx="1706.1" cy="75.8" r="6.47"/>
<circle cx="1724.8" cy="134.5" r="6.47"/>
<circle cx="1724.8" cy="178.2" r="6.47"/>
<circle cx="1724.8" cy="187.2" r="6.47"/>
<circle cx="1724.8" cy="189.4" r="6.47"/>
<circle cx="1724.8" cy="191.6" r="6.47"/>
<circle cx="1724.8" cy="193.6" r="6.47"/>
<circle cx="1724.8" cy="202.0" r="6.47"/>
<circle cx="1724.8" cy="209.0" r="6.47"/>
<circle cx="1724.8" cy="224.3" r="6.47"/>
<circle cx="1724.8" cy="234.1" r="6.47"/>
<circle cx="1724.8" cy="237.5" r="6.47"/>
<circle cx="1724.8" cy="239.7" r="6.47"/>
<circle cx="1724.8" cy="241.9" r="6.47"/>
<circle cx="1724.8" cy="243.9" r="6.47"/>
<circle cx="1724.8" cy="76.2" r="6.47"/>
<circle cx="1743.4" cy="164.2" r="6.47"/>
<circle cx="1743.4" cy="171.2" r="6.47"/>
<circle cx="1743.4" cy="179.6" r="6.47"/>
<circle cx="1743.4" cy="188.0" r="6.47"/>
<circle cx="1743.4" cy="196.4" r="6.47"/>
<circle cx="1743.4" cy="202.0" r="6.47"/>
<circle cx="1743.4" cy="211.7" r="6.47"/>
<circle cx="1743.4" cy="217.9" r="6.47"/>
<circle cx="1743.4" cy="220.1" r="6.47"/>
<circle cx="1743.4" cy="222.3" r="6.47"/>
<circle cx="1743.4" cy="222.9" r="6.47"/>
<circle cx="1743.4" cy="76.2" r="6.47"/>
<circle cx="1762.1" cy="105.0" r="6.47"/>
<circle cx="1762.1" cy="113.7" r="6.47"/>
<circle cx="1762.1" cy="132.9" r="6.47"/>
<circle cx="1762.1" cy="146.4" r="6.47"/>
<circle cx="1762.1" cy="157.8" r="6.47"/>
<circle cx="1762.1" cy="160.0" r="6.47"/>
<circle cx="1762.1" cy="164.2" r="6.47"/>
<circle cx="1762.1" cy="172.6" r="6.47"/>
<circle cx="1762.1" cy="179.6" r="6.47"/>
<circle cx="1762.1" cy="185.8" r="6.47"/>
<circle cx="1762.1" cy="188.0" r="6.47"/>
<circle cx="1762.1" cy="190.2" r="6.47"/>
<circle cx="1762.1" cy="190.8" r="6.47"/>
<circle cx="1762.1" cy="85.8" r="6.47"/>
<circle cx="1780.8" cy="120.4" r="6.47"/>
<circle cx="1780.8" cy="132.9" r="6.47"/>
<circle cx="1780.8" cy="144.3" r="6.47"/>
<circle cx="1780.8" cy="146.5" r="6.47"/>
<circle cx="1780.8" cy="154.9" r="6.47"/>
<circle cx="1780.8" cy="157.1" r="6.47"/>
<circle cx="1780.8" cy="164.8" r="6.47"/>
<circle cx="1780.8" cy="167.0" r="6.47"/>
<circle cx="1780.8" cy="169.2" r="6.47"/>
<circle cx="1780.8" cy="178.8" r="6.47"/>
<circle cx="1780.8" cy="181.0" r="6.47"/>
<circle cx="1780.8" cy="183.2" r="6.47"/>
<circle cx="1780.8" cy="188.0" r="6.47"/>
<circle cx="1780.8" cy="99.3" r="6.47"/>
<circle cx="1799.4" cy="100.2" r="6.47"/>
<circle cx="1799.4" cy="145.4" r="6.47"/>
<circle cx="1799.4" cy="169.8" r="6.47"/>
<circle cx="1799.4" cy="176.8" r="6.47"/>
<circle cx="1799.4" cy="180.2" r="6.47"/>
<circle cx="1799.4" cy="182.4" r="6.47"/>
<circle cx="1799.4" cy="184.6" r="6.47"/>
<circle cx="1799.4" cy="189.4" r="6.47"/>
<circle cx="1799.4" cy="196.4" r="6.47"/>
<circle cx="1799.4" cy="206.8" r="6.47"/>
<circle cx="1799.4" cy="209.0" r="6.47"/>
<circle cx="1799.4" cy="211.2" r="6.47"/>
<circle cx="1799.4" cy="211.7" r="6.47"/>
<circle cx="1799.4" cy="82.5" r="6.47"/>
<circle cx="1818.1" cy="103.1" r="6.47"/>
<circle cx="1818.1" cy="113.7" r="6.47"/>
<circle cx="1818.1" cy="132.0" r="6.47"/>
<circle cx="1818.1" cy="152.2" r="6.47"/>
<circle cx="1818.1" cy="168.4" r="6.47"/>
<circle cx="1818.1" cy="186.6" r="6.47"/>
<circle cx="1818.1" cy="198.4" r="6.47"/>
<circle cx="1818.1" cy="200.6" r="6.47"/>
<circle cx="1818.1" cy="202.8" r="6.47"/>
<circle cx="1818.1" cy="203.4" r="6.47"/>
<circle cx="1818.1" cy="86.8" r="6.47"/>
<circle cx="1836.8" cy="105.7" r="6.47"/>
<circle cx="1836.8" cy="107.9" r="6.47"/>
<circle cx="1836.8" cy="110.1" r="6.47"/>
<circle cx="1836.8" cy="110.7" r="6.47"/>
<circle cx="1836.8" cy="112.9" r="6.47"/>
<circle cx="1836.8" cy="130.0" r="6.47"/>
<circle cx="1836.8" cy="138.7" r="6.47"/>
<circle cx="1836.8" cy="145.1" r="6.47"/>
<circle cx="1836.8" cy="147.3" r="6.47"/>
<circle cx="1836.8" cy="149.5" r="6.47"/>
<circle cx="1836.8" cy="159.8" r="6.47"/>
<circle cx="1836.8" cy="164.2" r="6.47"/>
<circle cx="1836.8" cy="174.0" r="6.47"/>
<circle cx="1836.8" cy="182.4" r="6.47"/>
<circle cx="1836.8" cy="200.6" r="6.47"/>
<circle cx="1836.8" cy="210.3" r="6.47"/>
<circle cx="1836.8" cy="92.0" r="6.47"/>
<circle cx="1855.4" cy="122.3" r="6.47"/>
<circle cx="1855.4" cy="132.8" r="6.47"/>
<circle cx="1855.4" cy="135.0" r="6.47"/>
<circle cx="1855.4" cy="147.2" r="6.47"/>
<circle cx="1855.4" cy="149.4" r="6.47"/>
<circle cx="1855.4" cy="153.5" r="6.47"/>
<circle cx="1855.4" cy="155.7" r="6.47"/>
<circle cx="1855.4" cy="157.9" r="6.47"/>
<circle cx="1855.4" cy="160.1" r="6.47"/>
<circle cx="1855.4" cy="162.3" r="6.47"/>
<circle cx="1855.4" cy="159.2" r="6.47"/>
<circle cx="1855.4" cy="161.4" r="6.47"/>
<circle cx="1855.4" cy="163.6" r="6.47"/>
<circle cx="1855.4" cy="102.7" r="6.47"/>
<circle cx="1874.1" cy="119.2" r="6.47"/>
<circle cx="1874.1" cy="121.4" r="6.47"/>
<circle cx="1874.1" cy="123.6" r="6.47"/>
<circle cx="1874.1" cy="125.1" r="6.47"/>
<circle cx="1874.1" cy="127.3" r="6.47"/>
<circle cx="1874.1" cy="132.6" r="6.47"/>
<circle cx="1874.1" cy="134.8" r="6.47"/>
<circle cx="1874.1" cy="137.0" r="6.47"/>
<circle cx="1874.1" cy="139.5" r="6.47"/>
<circle cx="1874.1" cy="141.7" r="6.47"/>
<circle cx="1874.1" cy="155.7" r="6.47"/>
<circle cx="1874.1" cy="157.9" r="6.47"/>
<circle cx="1874.1" cy="160.1" r="6.47"/>
<circle cx="1874.1" cy="162.8" r="6.47"/>
<circle cx="1874.1" cy="167.0" r="6.47"/>
<circle cx="1874.1" cy="89.7" r="6.47"/>
<circle cx="1892.8" cy="105.6" r="6.47"/>
<circle cx="1892.8" cy="152.2" r="6.47"/>
<circle cx="1892.8" cy="210.9" r="6.47"/>
<circle cx="1892.8" cy="213.1" r="6.47"/>
<circle cx="1892.8" cy="215.3" r="6.47"/>
<circle cx="1892.8" cy="222.9" r="6.47"/>
<circle cx="1892.8" cy="234.1" r="6.47"/>
<circle cx="1892.8" cy="237.5" r="6.47"/>
<circle cx="1892.8" cy="239.7" r="6.47"/>
<circle cx="1892.8" cy="241.9" r="6.47"/>
<circle cx="1892.8" cy="243.9" r="6.47"/>
<circle cx="1892.8" cy="249.5" r="6.47"/>
<circle cx="1892.8" cy="80.0" r="6.47"/>
<circle cx="1911.4" cy="120.1" r="6.47"/>
<circle cx="1911.4" cy="122.3" r="6.47"/>
<circle cx="1911.4" cy="124.5" r="6.47"/>
<circle cx="1911.4" cy="132.9" r="6.47"/>
<circle cx="1911.4" cy="138.7" r="6.47"/>
<circle cx="1911.4" cy="151.6" r="6.47"/>
<circle cx="1911.4" cy="153.8" r="6.47"/>
<circle cx="1911.4" cy="156.0" r="6.47"/>
<circle cx="1911.4" cy="158.2" r="6.47"/>
<circle cx="1911.4" cy="160.4" r="6.47"/>
<circle cx="1911.4" cy="157.8" r="6.47"/>
<circle cx="1911.4" cy="160.0" r="6.47"/>
<circle cx="1911.4" cy="162.2" r="6.47"/>
<circle cx="1911.4" cy="168.4" r="6.47"/>
<circle cx="1911.4" cy="105.0" r="6.47"/>
<circle cx="1930.1" cy="182.4" r="6.47"/>
<circle cx="1930.1" cy="189.4" r="6.47"/>
<circle cx="1930.1" cy="207.6" r="6.47"/>
<circle cx="1930.1" cy="218.7" r="6.47"/>
<circle cx="1930.1" cy="231.3" r="6.47"/>
<circle cx="1930.1" cy="233.3" r="6.47"/>
<circle cx="1930.1" cy="235.5" r="6.47"/>
<circle cx="1930.1" cy="237.7" r="6.47"/>
<circle cx="1930.1" cy="239.7" r="6.47"/>
<circle cx="1930.1" cy="75.8" r="6.47"/>
<circle cx="1948.8" cy="113.7" r="6.47"/>
<circle cx="1948.8" cy="120.3" r="6.47"/>
<circle cx="1948.8" cy="122.5" r="6.47"/>
<circle cx="1948.8" cy="137.6" r="6.47"/>
<circle cx="1948.8" cy="139.8" r="6.47"/>
<circle cx="1948.8" cy="148.0" r="6.47"/>
<circle cx="1948.8" cy="150.2" r="6.47"/>
<circle cx="1948.8" cy="152.4" r="6.47"/>
<circle cx="1948.8" cy="166.2" r="6.47"/>
<circle cx="1948.8" cy="168.4" r="6.47"/>
<circle cx="1948.8" cy="170.6" r="6.47"/>
<circle cx="1948.8" cy="172.6" r="6.47"/>
<circle cx="1948.8" cy="90.6" r="6.47"/>
<circle cx="1967.4" cy="109.8" r="6.47"/>
<circle cx="1967.4" cy="135.7" r="6.47"/>
<circle cx="1967.4" cy="137.9" r="6.47"/>
<circle cx="1967.4" cy="141.6" r="6.47"/>
<circle cx="1967.4" cy="150.1" r="6.47"/>
<circle cx="1967.4" cy="152.3" r="6.47"/>
<circle cx="1967.4" cy="181.0" r="6.47"/>
<circle cx="1967.4" cy="190.0" r="6.47"/>
<circle cx="1967.4" cy="192.2" r="6.47"/>
<circle cx="1967.4" cy="194.4" r="6.47"/>
<circle cx="1967.4" cy="196.4" r="6.47"/>
<circle cx="1967.4" cy="200.6" r="6.47"/>
<circle cx="1967.4" cy="97.3" r="6.47"/>
<circle cx="1986.1" cy="102.2" r="6.47"/>
<circle cx="1986.1" cy="130.7" r="6.47"/>
<circle cx="1986.1" cy="132.9" r="6.47"/>
<circle cx="1986.1" cy="135.1" r="6.47"/>
<circle cx="1986.1" cy="135.7" r="6.47"/>
<circle cx="1986.1" cy="137.9" r="6.47"/>
<circle cx="1986.1" cy="185.2" r="6.47"/>
<circle cx="1986.1" cy="210.9" r="6.47"/>
<circle cx="1986.1" cy="213.1" r="6.47"/>
<circle cx="1986.1" cy="215.3" r="6.47"/>
<circle cx="1986.1" cy="225.7" r="6.47"/>
<circle cx="1986.1" cy="235.5" r="6.47"/>
<circle cx="1986.1" cy="241.1" r="6.47"/>
<circle cx="1986.1" cy="249.5" r="6.47"/>
<circle cx="1986.1" cy="255.7" r="6.47"/>
<circle cx="1986.1" cy="257.9" r="6.47"/>
<circle cx="1986.1" cy="260.1" r="6.47"/>
<circle cx="1986.1" cy="92.9" r="6.47"/>
<circle cx="2004.7" cy="108.6" r="6.47"/>
<circle cx="2004.7" cy="110.8" r="6.47"/>
<circle cx="2004.7" cy="113.0" r="6.47"/>
<circle cx="2004.7" cy="117.5" r="6.47"/>
<circle cx="2004.7" cy="136.8" r="6.47"/>
<circle cx="2004.7" cy="152.6" r="6.47"/>
<circle cx="2004.7" cy="154.8" r="6.47"/>
<circle cx="2004.7" cy="157.0" r="6.47"/>
<circle cx="2004.7" cy="159.2" r="6.47"/>
<circle cx="2004.7" cy="161.4" r="6.47"/>
<circle cx="2004.7" cy="161.4" r="6.47"/>
<circle cx="2004.7" cy="167.6" r="6.47"/>
<circle cx="2004.7" cy="169.8" r="6.47"/>
<circle cx="2004.7" cy="172.0" r="6.47"/>
<circle cx="2004.7" cy="176.8" r="6.47"/>
<circle cx="2004.7" cy="182.4" r="6.47"/>
<circle cx="2004.7" cy="97.3" r="6.47"/>
<circle cx="2023.4" cy="103.1" r="6.47"/>
<circle cx="2023.4" cy="142.5" r="6.47"/>
<circle cx="2023.4" cy="174.0" r="6.47"/>
<circle cx="2023.4" cy="199.2" r="6.47"/>
<circle cx="2023.4" cy="220.1" r="6.47"/>
<circle cx="2023.4" cy="234.1" r="6.47"/>
<circle cx="2023.4" cy="246.7" r="6.47"/>
<circle cx="2023.4" cy="255.7" r="6.47"/>
<circle cx="2023.4" cy="257.9" r="6.47"/>
<circle cx="2023.4" cy="260.1" r="6.47"/>
<circle cx="2023.4" cy="262.1" r="6.47"/>
<circle cx="2023.4" cy="269.1" r="6.47"/>
<circle cx="2023.4" cy="276.1" r="6.47"/>
<circle cx="2023.4" cy="281.7" r="6.47"/>
<circle cx="2023.4" cy="81.0" r="6.47"/>
<circle cx="2042.1" cy="104.9" r="6.47"/>
<circle cx="2042.1" cy="107.1" r="6.47"/>
<circle cx="2042.1" cy="117.5" r="6.47"/>
<circle cx="2042.1" cy="138.7" r="6.47"/>
<circle cx="2042.1" cy="145.1" r="6.47"/>
<circle cx="2042.1" cy="147.3" r="6.47"/>
<circle cx="2042.1" cy="149.5" r="6.47"/>
<circle cx="2042.1" cy="163.4" r="6.47"/>
<circle cx="2042.1" cy="165.6" r="6.47"/>
<circle cx="2042.1" cy="167.8" r="6.47"/>
<circle cx="2042.1" cy="177.4" r="6.47"/>
<circle cx="2042.1" cy="179.6" r="6.47"/>
<circle cx="2042.1" cy="181.8" r="6.47"/>
<circle cx="2042.1" cy="186.6" r="6.47"/>
<circle cx="2042.1" cy="96.0" r="6.47"/>
<circle cx="2060.7" cy="102.2" r="6.47"/>
<circle cx="2060.7" cy="192.2" r="6.47"/>
<circle cx="2060.7" cy="231.3" r="6.47"/>
<circle cx="2060.7" cy="295.7" r="6.47"/>
<circle cx="2060.7" cy="303.3" r="6.47"/>
<circle cx="2060.7" cy="305.5" r="6.47"/>
<circle cx="2060.7" cy="307.7" r="6.47"/>
<circle cx="2060.7" cy="309.4" r="6.47"/>
<circle cx="2060.7" cy="311.6" r="6.47"/>
<circle cx="2060.7" cy="313.8" r="6.47"/>
<circle cx="2060.7" cy="316.0" r="6.47"/>
<circle cx="2060.7" cy="318.2" r="6.47"/>
<circle cx="2060.7" cy="316.6" r="6.47"/>
<circle cx="2060.7" cy="80.4" r="6.47"/>
<circle cx="2079.4" cy="128.0" r="6.47"/>
<circle cx="2079.4" cy="130.2" r="6.47"/>
<circle cx="2079.4" cy="139.5" r="6.47"/>
<circle cx="2079.4" cy="141.7" r="6.47"/>
<circle cx="2079.4" cy="145.3" r="6.47"/>
<circle cx="2079.4" cy="147.5" r="6.47"/>
<circle cx="2079.4" cy="149.7" r="6.47"/>
<circle cx="2079.4" cy="151.9" r="6.47"/>
<circle cx="2079.4" cy="154.1" r="6.47"/>
<circle cx="2079.4" cy="156.3" r="6.47"/>
<circle cx="2079.4" cy="158.5" r="6.47"/>
<circle cx="2079.4" cy="155.7" r="6.47"/>
<circle cx="2079.4" cy="157.9" r="6.47"/>
<circle cx="2079.4" cy="160.1" r="6.47"/>
<circle cx="2079.4" cy="161.4" r="6.47"/>
<circle cx="2079.4" cy="105.4" r="6.47"/>
<circle cx="2098.1" cy="115.3" r="6.47"/>
<circle cx="2098.1" cy="117.5" r="6.47"/>
<circle cx="2098.1" cy="119.7" r="6.47"/>
<circle cx="2098.1" cy="121.2" r="6.47"/>
<circle cx="2098.1" cy="123.4" r="6.47"/>
<circle cx="2098.1" cy="134.8" r="6.47"/>
<circle cx="2098.1" cy="141.4" r="6.47"/>
<circle cx="2098.1" cy="143.6" r="6.47"/>
<circle cx="2098.1" cy="144.9" r="6.47"/>
<circle cx="2098.1" cy="147.1" r="6.47"/>
<circle cx="2098.1" cy="149.3" r="6.47"/>
<circle cx="2098.1" cy="151.5" r="6.47"/>
<circle cx="2098.1" cy="153.7" r="6.47"/>
<circle cx="2098.1" cy="147.8" r="6.47"/>
<circle cx="2098.1" cy="150.0" r="6.47"/>
<circle cx="2098.1" cy="152.2" r="6.47"/>
<circle cx="2098.1" cy="154.4" r="6.47"/>
<circle cx="2098.1" cy="156.6" r="6.47"/>
<circle cx="2098.1" cy="160.0" r="6.47"/>
<circle cx="2098.1" cy="94.5" r="6.47"/>
<circle cx="2116.7" cy="115.3" r="6.47"/>
<circle cx="2116.7" cy="117.5" r="6.47"/>
<circle cx="2116.7" cy="119.7" r="6.47"/>
<circle cx="2116.7" cy="130.7" r="6.47"/>
<circle cx="2116.7" cy="132.9" r="6.47"/>
<circle cx="2116.7" cy="135.1" r="6.47"/>
<circle cx="2116.7" cy="141.4" r="6.47"/>
<circle cx="2116.7" cy="143.6" r="6.47"/>
<circle cx="2116.7" cy="151.1" r="6.47"/>
<circle cx="2116.7" cy="153.3" r="6.47"/>
<circle cx="2116.7" cy="162.0" r="6.47"/>
<circle cx="2116.7" cy="164.2" r="6.47"/>
<circle cx="2116.7" cy="166.4" r="6.47"/>
<circle cx="2116.7" cy="103.1" r="6.47"/>
<circle cx="2135.4" cy="103.1" r="6.47"/>
<circle cx="2135.4" cy="122.2" r="6.47"/>
<circle cx="2135.4" cy="124.4" r="6.47"/>
<circle cx="2135.4" cy="134.8" r="6.47"/>
<circle cx="2135.4" cy="143.4" r="6.47"/>
<circle cx="2135.4" cy="145.6" r="6.47"/>
<circle cx="2135.4" cy="149.1" r="6.47"/>
<circle cx="2135.4" cy="151.3" r="6.47"/>
<circle cx="2135.4" cy="164.8" r="6.47"/>
<circle cx="2135.4" cy="167.0" r="6.47"/>
<circle cx="2135.4" cy="169.2" r="6.47"/>
<circle cx="2135.4" cy="171.2" r="6.47"/>
<circle cx="2135.4" cy="178.2" r="6.47"/>
<circle cx="2135.4" cy="90.6" r="6.47"/>
<circle cx="2154.1" cy="141.4" r="6.47"/>
<circle cx="2154.1" cy="143.6" r="6.47"/>
<circle cx="2154.1" cy="149.1" r="6.47"/>
<circle cx="2154.1" cy="151.3" r="6.47"/>
<circle cx="2154.1" cy="162.6" r="6.47"/>
<circle cx="2154.1" cy="164.8" r="6.47"/>
<circle cx="2154.1" cy="167.0" r="6.47"/>
<circle cx="2154.1" cy="169.2" r="6.47"/>
<circle cx="2154.1" cy="171.4" r="6.47"/>
<circle cx="2154.1" cy="174.0" r="6.47"/>
<circle cx="2154.1" cy="178.2" r="6.47"/>
<circle cx="2154.1" cy="79.7" r="6.47"/>
<circle cx="2172.7" cy="124.1" r="6.47"/>
<circle cx="2172.7" cy="126.3" r="6.47"/>
<circle cx="2172.7" cy="130.9" r="6.47"/>
<circle cx="2172.7" cy="133.1" r="6.47"/>
<circle cx="2172.7" cy="134.3" r="6.47"/>
<circle cx="2172.7" cy="136.5" r="6.47"/>
<circle cx="2172.7" cy="138.7" r="6.47"/>
<circle cx="2172.7" cy="140.9" r="6.47"/>
<circle cx="2172.7" cy="143.1" r="6.47"/>
<circle cx="2172.7" cy="137.2" r="6.47"/>
<circle cx="2172.7" cy="139.4" r="6.47"/>
<circle cx="2172.7" cy="141.6" r="6.47"/>
<circle cx="2172.7" cy="143.8" r="6.47"/>
<circle cx="2172.7" cy="146.0" r="6.47"/>
<circle cx="2172.7" cy="149.1" r="6.47"/>
<circle cx="2172.7" cy="151.3" r="6.47"/>
<circle cx="2172.7" cy="161.4" r="6.47"/>
<circle cx="2172.7" cy="90.0" r="6.47"/>
<circle cx="2191.4" cy="108.9" r="6.47"/>
<circle cx="2191.4" cy="129.9" r="6.47"/>
<circle cx="2191.4" cy="132.1" r="6.47"/>
<circle cx="2191.4" cy="139.5" r="6.47"/>
<circle cx="2191.4" cy="141.7" r="6.47"/>
<circle cx="2191.4" cy="202.0" r="6.47"/>
<circle cx="2191.4" cy="215.9" r="6.47"/>
<circle cx="2191.4" cy="227.1" r="6.47"/>
<circle cx="2191.4" cy="231.9" r="6.47"/>
<circle cx="2191.4" cy="234.1" r="6.47"/>
<circle cx="2191.4" cy="236.3" r="6.47"/>
<circle cx="2191.4" cy="242.5" r="6.47"/>
<circle cx="2191.4" cy="255.1" r="6.47"/>
<circle cx="2191.4" cy="260.7" r="6.47"/>
<circle cx="2191.4" cy="262.7" r="6.47"/>
<circle cx="2191.4" cy="264.9" r="6.47"/>
<circle cx="2191.4" cy="267.1" r="6.47"/>
<circle cx="2191.4" cy="81.6" r="6.47"/>
<circle cx="2210.1" cy="102.2" r="6.47"/>
<circle cx="2210.1" cy="128.8" r="6.47"/>
<circle cx="2210.1" cy="131.0" r="6.47"/>
<circle cx="2210.1" cy="133.2" r="6.47"/>
<circle cx="2210.1" cy="137.6" r="6.47"/>
<circle cx="2210.1" cy="139.8" r="6.47"/>
<circle cx="2210.1" cy="147.2" r="6.47"/>
<circle cx="2210.1" cy="149.4" r="6.47"/>
<circle cx="2210.1" cy="156.0" r="6.47"/>
<circle cx="2210.1" cy="164.2" r="6.47"/>
<circle cx="2210.1" cy="173.2" r="6.47"/>
<circle cx="2210.1" cy="175.4" r="6.47"/>
<circle cx="2210.1" cy="177.6" r="6.47"/>
<circle cx="2210.1" cy="179.6" r="6.47"/>
<circle cx="2210.1" cy="185.2" r="6.47"/>
<circle cx="2210.1" cy="88.1" r="6.47"/>
<circle cx="2228.7" cy="120.4" r="6.47"/>
<circle cx="2228.7" cy="132.0" r="6.47"/>
<circle cx="2228.7" cy="139.7" r="6.47"/>
<circle cx="2228.7" cy="156.8" r="6.47"/>
<circle cx="2228.7" cy="159.0" r="6.47"/>
<circle cx="2228.7" cy="164.2" r="6.47"/>
<circle cx="2228.7" cy="169.0" r="6.47"/>
<circle cx="2228.7" cy="171.2" r="6.47"/>
<circle cx="2228.7" cy="173.4" r="6.47"/>
<circle cx="2228.7" cy="175.4" r="6.47"/>
<circle cx="2228.7" cy="179.6" r="6.47"/>
<circle cx="2228.7" cy="98.7" r="6.47"/>
<circle cx="2247.4" cy="133.7" r="6.47"/>
<circle cx="2247.4" cy="135.9" r="6.47"/>
<circle cx="2247.4" cy="145.3" r="6.47"/>
<circle cx="2247.4" cy="147.5" r="6.47"/>
<circle cx="2247.4" cy="188.0" r="6.47"/>
<circle cx="2247.4" cy="194.2" r="6.47"/>
<circle cx="2247.4" cy="196.4" r="6.47"/>
<circle cx="2247.4" cy="198.6" r="6.47"/>
<circle cx="2247.4" cy="202.0" r="6.47"/>
<circle cx="2247.4" cy="212.9" r="6.47"/>
<circle cx="2247.4" cy="215.1" r="6.47"/>
<circle cx="2247.4" cy="217.3" r="6.47"/>
<circle cx="2247.4" cy="219.5" r="6.47"/>
<circle cx="2247.4" cy="221.7" r="6.47"/>
<circle cx="2247.4" cy="221.5" r="6.47"/>
<circle cx="2247.4" cy="78.5" r="6.47"/>
<circle cx="2266.1" cy="103.1" r="6.47"/>
<circle cx="2266.1" cy="113.7" r="6.47"/>
<circle cx="2266.1" cy="123.3" r="6.47"/>
<circle cx="2266.1" cy="142.5" r="6.47"/>
<circle cx="2266.1" cy="154.1" r="6.47"/>
<circle cx="2266.1" cy="168.4" r="6.47"/>
<circle cx="2266.1" cy="176.8" r="6.47"/>
<circle cx="2266.1" cy="209.5" r="6.47"/>
<circle cx="2266.1" cy="211.7" r="6.47"/>
<circle cx="2266.1" cy="213.9" r="6.47"/>
<circle cx="2266.1" cy="220.1" r="6.47"/>
<circle cx="2266.1" cy="226.3" r="6.47"/>
<circle cx="2266.1" cy="228.5" r="6.47"/>
<circle cx="2266.1" cy="230.7" r="6.47"/>
<circle cx="2266.1" cy="87.2" r="6.47"/>
<circle cx="2284.7" cy="122.3" r="6.47"/>
<circle cx="2284.7" cy="155.0" r="6.47"/>
<circle cx="2284.7" cy="213.1" r="6.47"/>
<circle cx="2284.7" cy="227.1" r="6.47"/>
<circle cx="2284.7" cy="235.5" r="6.47"/>
<circle cx="2284.7" cy="240.3" r="6.47"/>
<circle cx="2284.7" cy="242.5" r="6.47"/>
<circle cx="2284.7" cy="244.7" r="6.47"/>
<circle cx="2284.7" cy="246.7" r="6.47"/>
<circle cx="2284.7" cy="250.1" r="6.47"/>
<circle cx="2284.7" cy="252.3" r="6.47"/>
<circle cx="2284.7" cy="254.5" r="6.47"/>
<circle cx="2284.7" cy="88.1" r="6.47"/>
<circle cx="2303.4" cy="247.3" r="6.47"/>
<circle cx="2303.4" cy="351.2" r="6.47"/>
<circle cx="2303.4" cy="372.4" r="6.47"/>
<circle cx="2303.4" cy="387.4" r="6.47"/>
<circle cx="2303.4" cy="397.8" r="6.47"/>
<circle cx="2303.4" cy="419.0" r="6.47"/>
<circle cx="2303.4" cy="421.7" r="6.47"/>
<circle cx="2303.4" cy="423.9" r="6.47"/>
<circle cx="2303.4" cy="426.1" r="6.47"/>
<circle cx="2303.4" cy="428.8" r="6.47"/>
<circle cx="2303.4" cy="433.7" r="6.47"/>
<circle cx="2303.4" cy="438.6" r="6.47"/>
<circle cx="2303.4" cy="76.2" r="6.47"/>
<circle cx="2322.1" cy="120.4" r="6.47"/>
<circle cx="2322.1" cy="147.3" r="6.47"/>
<circle cx="2322.1" cy="202.6" r="6.47"/>
<circle cx="2322.1" cy="204.8" r="6.47"/>
<circle cx="2322.1" cy="207.0" r="6.47"/>
<circle cx="2322.1" cy="217.9" r="6.47"/>
<circle cx="2322.1" cy="220.1" r="6.47"/>
<circle cx="2322.1" cy="222.3" r="6.47"/>
<circle cx="2322.1" cy="225.7" r="6.47"/>
<circle cx="2322.1" cy="255.1" r="6.47"/>
<circle cx="2322.1" cy="257.9" r="6.47"/>
<circle cx="2322.1" cy="264.9" r="6.47"/>
<circle cx="2322.1" cy="277.5" r="6.47"/>
<circle cx="2322.1" cy="279.7" r="6.47"/>
<circle cx="2322.1" cy="281.9" r="6.47"/>
<circle cx="2322.1" cy="77.7" r="6.47"/>
<circle cx="2340.7" cy="105.0" r="6.47"/>
<circle cx="2340.7" cy="107.9" r="6.47"/>
<circle cx="2340.7" cy="129.8" r="6.47"/>
<circle cx="2340.7" cy="132.0" r="6.47"/>
<circle cx="2340.7" cy="134.2" r="6.47"/>
<circle cx="2340.7" cy="146.4" r="6.47"/>
<circle cx="2340.7" cy="154.1" r="6.47"/>
<circle cx="2340.7" cy="181.0" r="6.47"/>
<circle cx="2340.7" cy="182.2" r="6.47"/>
<circle cx="2340.7" cy="184.4" r="6.47"/>
<circle cx="2340.7" cy="186.6" r="6.47"/>
<circle cx="2340.7" cy="188.8" r="6.47"/>
<circle cx="2340.7" cy="191.0" r="6.47"/>
<circle cx="2340.7" cy="91.2" r="6.47"/>
<circle cx="2359.4" cy="105.0" r="6.47"/>
<circle cx="2359.4" cy="150.0" r="6.47"/>
<circle cx="2359.4" cy="152.2" r="6.47"/>
<circle cx="2359.4" cy="154.4" r="6.47"/>
<circle cx="2359.4" cy="175.4" r="6.47"/>
<circle cx="2359.4" cy="200.6" r="6.47"/>
<circle cx="2359.4" cy="204.0" r="6.47"/>
<circle cx="2359.4" cy="206.2" r="6.47"/>
<circle cx="2359.4" cy="208.4" r="6.47"/>
<circle cx="2359.4" cy="210.9" r="6.47"/>
<circle cx="2359.4" cy="213.1" r="6.47"/>
<circle cx="2359.4" cy="215.3" r="6.47"/>
<circle cx="2359.4" cy="220.1" r="6.47"/>
<circle cx="2359.4" cy="231.9" r="6.47"/>
<circle cx="2359.4" cy="234.1" r="6.47"/>
<circle cx="2359.4" cy="236.3" r="6.47"/>
<circle cx="2359.4" cy="81.0" r="6.47"/>
<circle cx="2378.0" cy="99.3" r="6.47"/>
<circle cx="2378.0" cy="192.2" r="6.47"/>
<circle cx="2378.0" cy="204.8" r="6.47"/>
<circle cx="2378.0" cy="214.5" r="6.47"/>
<circle cx="2378.0" cy="229.9" r="6.47"/>
<circle cx="2378.0" cy="241.1" r="6.47"/>
<circle cx="2378.0" cy="247.3" r="6.47"/>
<circle cx="2378.0" cy="249.5" r="6.47"/>
<circle cx="2378.0" cy="251.7" r="6.47"/>
<circle cx="2378.0" cy="253.7" r="6.47"/>
<circle cx="2378.0" cy="257.9" r="6.47"/>
<circle cx="2378.0" cy="262.1" r="6.47"/>
<circle cx="2378.0" cy="81.6" r="6.47"/>
<circle cx="2396.7" cy="164.2" r="6.47"/>
<circle cx="2396.7" cy="224.3" r="6.47"/>
<circle cx="2396.7" cy="255.7" r="6.47"/>
<circle cx="2396.7" cy="257.9" r="6.47"/>
<circle cx="2396.7" cy="260.1" r="6.47"/>
<circle cx="2396.7" cy="264.9" r="6.47"/>
<circle cx="2396.7" cy="283.1" r="6.47"/>
<circle cx="2396.7" cy="291.5" r="6.47"/>
<circle cx="2396.7" cy="297.7" r="6.47"/>
<circle cx="2396.7" cy="299.9" r="6.47"/>
<circle cx="2396.7" cy="302.1" r="6.47"/>
<circle cx="2396.7" cy="304.1" r="6.47"/>
<circle cx="2396.7" cy="309.7" r="6.47"/>
<circle cx="2396.7" cy="75.8" r="6.47"/>
<circle cx="2415.4" cy="137.2" r="6.47"/>
<circle cx="2415.4" cy="210.9" r="6.47"/>
<circle cx="2415.4" cy="213.1" r="6.47"/>
<circle cx="2415.4" cy="215.3" r="6.47"/>
<circle cx="2415.4" cy="219.3" r="6.47"/>
<circle cx="2415.4" cy="221.5" r="6.47"/>
<circle cx="2415.4" cy="223.7" r="6.47"/>
<circle cx="2415.4" cy="228.5" r="6.47"/>
<circle cx="2415.4" cy="236.1" r="6.47"/>
<circle cx="2415.4" cy="238.3" r="6.47"/>
<circle cx="2415.4" cy="240.5" r="6.47"/>
<circle cx="2415.4" cy="252.9" r="6.47"/>
<circle cx="2415.4" cy="255.1" r="6.47"/>
<circle cx="2415.4" cy="257.3" r="6.47"/>
<circle cx="2415.4" cy="262.1" r="6.47"/>
<circle cx="2415.4" cy="76.2" r="6.47"/>
<circle cx="2434.0" cy="177.6" r="6.47"/>
<circle cx="2434.0" cy="197.8" r="6.47"/>
<circle cx="2434.0" cy="203.4" r="6.47"/>
<circle cx="2434.0" cy="210.3" r="6.47"/>
<circle cx="2434.0" cy="212.9" r="6.47"/>
<circle cx="2434.0" cy="215.1" r="6.47"/>
<circle cx="2434.0" cy="217.3" r="6.47"/>
<circle cx="2434.0" cy="219.5" r="6.47"/>
<circle cx="2434.0" cy="221.7" r="6.47"/>
<circle cx="2434.0" cy="228.5" r="6.47"/>
<circle cx="2434.0" cy="237.5" r="6.47"/>
<circle cx="2434.0" cy="239.7" r="6.47"/>
<circle cx="2434.0" cy="241.9" r="6.47"/>
<circle cx="2434.0" cy="75.8" r="6.47"/>
<circle cx="2452.7" cy="103.1" r="6.47"/>
<circle cx="2452.7" cy="116.6" r="6.47"/>
<circle cx="2452.7" cy="146.4" r="6.47"/>
<circle cx="2452.7" cy="167.0" r="6.47"/>
<circle cx="2452.7" cy="172.6" r="6.47"/>
<circle cx="2452.7" cy="181.6" r="6.47"/>
<circle cx="2452.7" cy="183.8" r="6.47"/>
<circle cx="2452.7" cy="186.0" r="6.47"/>
<circle cx="2452.7" cy="197.8" r="6.47"/>
<circle cx="2452.7" cy="204.0" r="6.47"/>
<circle cx="2452.7" cy="206.2" r="6.47"/>
<circle cx="2452.7" cy="208.4" r="6.47"/>
<circle cx="2452.7" cy="93.1" r="6.47"/>
<circle cx="2471.4" cy="104.1" r="6.47"/>
<circle cx="2471.4" cy="112.7" r="6.47"/>
<circle cx="2471.4" cy="121.4" r="6.47"/>
<circle cx="2471.4" cy="148.3" r="6.47"/>
<circle cx="2471.4" cy="164.2" r="6.47"/>
<circle cx="2471.4" cy="171.2" r="6.47"/>
<circle cx="2471.4" cy="178.8" r="6.47"/>
<circle cx="2471.4" cy="181.0" r="6.47"/>
<circle cx="2471.4" cy="183.2" r="6.47"/>
<circle cx="2471.4" cy="183.8" r="6.47"/>
<circle cx="2471.4" cy="189.4" r="6.47"/>
<circle cx="2471.4" cy="87.7" r="6.47"/>
<circle cx="2490.0" cy="112.7" r="6.47"/>
<circle cx="2490.0" cy="134.8" r="6.47"/>
<circle cx="2490.0" cy="144.5" r="6.47"/>
<circle cx="2490.0" cy="154.1" r="6.47"/>
<circle cx="2490.0" cy="159.8" r="6.47"/>
<circle cx="2490.0" cy="162.0" r="6.47"/>
<circle cx="2490.0" cy="164.2" r="6.47"/>
<circle cx="2490.0" cy="166.4" r="6.47"/>
<circle cx="2490.0" cy="168.6" r="6.47"/>
<circle cx="2490.0" cy="172.6" r="6.47"/>
<circle cx="2490.0" cy="182.4" r="6.47"/>
<circle cx="2490.0" cy="193.6" r="6.47"/>
<circle cx="2490.0" cy="92.0" r="6.47"/>
<circle cx="2508.7" cy="122.3" r="6.47"/>
<circle cx="2508.7" cy="134.8" r="6.47"/>
<circle cx="2508.7" cy="144.5" r="6.47"/>
<circle cx="2508.7" cy="165.6" r="6.47"/>
<circle cx="2508.7" cy="176.6" r="6.47"/>
<circle cx="2508.7" cy="178.8" r="6.47"/>
<circle cx="2508.7" cy="181.0" r="6.47"/>
<circle cx="2508.7" cy="183.2" r="6.47"/>
<circle cx="2508.7" cy="185.4" r="6.47"/>
<circle cx="2508.7" cy="183.8" r="6.47"/>
<circle cx="2508.7" cy="190.8" r="6.47"/>
<circle cx="2508.7" cy="97.0" r="6.47"/>
<circle cx="2527.4" cy="111.8" r="6.47"/>
<circle cx="2527.4" cy="130.0" r="6.47"/>
<circle cx="2527.4" cy="136.8" r="6.47"/>
<circle cx="2527.4" cy="143.2" r="6.47"/>
<circle cx="2527.4" cy="145.4" r="6.47"/>
<circle cx="2527.4" cy="147.6" r="6.47"/>
<circle cx="2527.4" cy="155.7" r="6.47"/>
<circle cx="2527.4" cy="157.9" r="6.47"/>
<circle cx="2527.4" cy="160.1" r="6.47"/>
<circle cx="2527.4" cy="159.2" r="6.47"/>
<circle cx="2527.4" cy="161.4" r="6.47"/>
<circle cx="2527.4" cy="163.6" r="6.47"/>
<circle cx="2527.4" cy="98.7" r="6.47"/>
</g>
<g fill="#f00" stroke="#f00" fill-opacity="0.04" stroke-opacity="0.025" stroke-width="2.55">
<circle cx="1407.5" cy="119.5" r="6.47"/>
<circle cx="1407.5" cy="126.9" r="6.47"/>
<circle cx="1407.5" cy="129.1" r="6.47"/>
<circle cx="1407.5" cy="131.3" r="6.47"/>
<circle cx="1407.5" cy="139.5" r="6.47"/>
<circle cx="1407.5" cy="141.7" r="6.47"/>
<circle cx="1407.5" cy="155.7" r="6.47"/>
<circle cx="1407.5" cy="157.9" r="6.47"/>
<circle cx="1407.5" cy="160.1" r="6.47"/>
<circle cx="1407.5" cy="109.8" r="6.47"/>
<circle cx="2546.0" cy="115.6" r="6.47"/>
<circle cx="2546.0" cy="119.5" r="6.47"/>
<circle cx="2546.0" cy="123.3" r="6.47"/>
<circle cx="2546.0" cy="127.2" r="6.47"/>
<circle cx="2546.0" cy="131.0" r="6.47"/>
<circle cx="2546.0" cy="134.8" r="6.47"/>
<circle cx="2546.0" cy="138.7" r="6.47"/>
<circle cx="2546.0" cy="142.5" r="6.47"/>
<circle cx="2546.0" cy="146.4" r="6.47"/>
<circle cx="2546.0" cy="150.2" r="6.47"/>
<circle cx="2546.0" cy="154.1" r="6.47"/>
<circle cx="2546.0" cy="157.9" r="6.47"/>
<circle cx="2546.0" cy="162.8" r="6.47"/>
<circle cx="2546.0" cy="168.4" r="6.47"/>
<circle cx="2546.0" cy="172.6" r="6.47"/>
<circle cx="2546.0" cy="176.8" r="6.47"/>
<circle cx="2546.0" cy="100.2" r="6.47"/>
<circle cx="2564.7" cy="117.5" r="6.47"/>
<circle cx="2564.7" cy="123.3" r="6.47"/>
<circle cx="2564.7" cy="141.3" r="6.47"/>
<circle cx="2564.7" cy="143.5" r="6.47"/>
<circle cx="2564.7" cy="145.7" r="6.47"/>
<circle cx="2564.7" cy="158.9" r="6.47"/>
<circle cx="2564.7" cy="162.8" r="6.47"/>
<circle cx="2564.7" cy="175.4" r="6.47"/>
<circle cx="2564.7" cy="181.0" r="6.47"/>
<circle cx="2564.7" cy="188.0" r="6.47"/>
<circle cx="2564.7" cy="195.0" r="6.47"/>
<circle cx="2564.7" cy="86.4" r="6.47"/>
<circle cx="2583.4" cy="121.4" r="6.47"/>
<circle cx="2583.4" cy="134.8" r="6.47"/>
<circle cx="2583.4" cy="138.4" r="6.47"/>
<circle cx="2583.4" cy="140.6" r="6.47"/>
<circle cx="2583.4" cy="142.8" r="6.47"/>
<circle cx="2583.4" cy="142.3" r="6.47"/>
<circle cx="2583.4" cy="144.5" r="6.47"/>
<circle cx="2583.4" cy="146.7" r="6.47"/>
<circle cx="2583.4" cy="150.2" r="6.47"/>
<circle cx="2583.4" cy="105.6" r="6.47"/>
<circle cx="2602.0" cy="114.7" r="6.47"/>
<circle cx="2602.0" cy="136.5" r="6.47"/>
<circle cx="2602.0" cy="138.7" r="6.47"/>
<circle cx="2602.0" cy="140.9" r="6.47"/>
<circle cx="2602.0" cy="145.4" r="6.47"/>
<circle cx="2602.0" cy="153.8" r="6.47"/>
<circle cx="2602.0" cy="156.0" r="6.47"/>
<circle cx="2602.0" cy="158.2" r="6.47"/>
<circle cx="2602.0" cy="159.2" r="6.47"/>
<circle cx="2602.0" cy="161.4" r="6.47"/>
<circle cx="2602.0" cy="163.6" r="6.47"/>
<circle cx="2602.0" cy="100.8" r="6.47"/>
<circle cx="2620.7" cy="107.9" r="6.47"/>
<circle cx="2620.7" cy="119.5" r="6.47"/>
<circle cx="2620.7" cy="126.9" r="6.47"/>
<circle cx="2620.7" cy="129.1" r="6.47"/>
<circle cx="2620.7" cy="131.3" r="6.47"/>
<circle cx="2620.7" cy="132.6" r="6.47"/>
<circle cx="2620.7" cy="134.8" r="6.47"/>
<circle cx="2620.7" cy="137.0" r="6.47"/>
<circle cx="2620.7" cy="142.5" r="6.47"/>
<circle cx="2620.7" cy="149.0" r="6.47"/>
<circle cx="2620.7" cy="151.2" r="6.47"/>
<circle cx="2620.7" cy="153.4" r="6.47"/>
<circle cx="2620.7" cy="161.4" r="6.47"/>
<circle cx="2620.7" cy="96.8" r="6.47"/>
<circle cx="2639.4" cy="119.5" r="6.47"/>
<circle cx="2639.4" cy="123.3" r="6.47"/>
<circle cx="2639.4" cy="127.2" r="6.47"/>
<circle cx="2639.4" cy="131.0" r="6.47"/>
<circle cx="2639.4" cy="134.8" r="6.47"/>
<circle cx="2639.4" cy="138.7" r="6.47"/>
<circle cx="2639.4" cy="140.3" r="6.47"/>
<circle cx="2639.4" cy="142.5" r="6.47"/>
<circle cx="2639.4" cy="144.7" r="6.47"/>
<circle cx="2639.4" cy="144.2" r="6.47"/>
<circle cx="2639.4" cy="146.4" r="6.47"/>
<circle cx="2639.4" cy="148.6" r="6.47"/>
<circle cx="2639.4" cy="150.2" r="6.47"/>
<circle cx="2639.4" cy="154.1" r="6.47"/>
<circle cx="2639.4" cy="157.9" r="6.47"/>
<circle cx="2639.4" cy="162.8" r="6.47"/>
<circle cx="2639.4" cy="111.2" r="6.47"/>
<circle cx="2658.0" cy="104.1" r="6.47"/>
<circle cx="2658.0" cy="118.2" r="6.47"/>
<circle cx="2658.0" cy="120.4" r="6.47"/>
<circle cx="2658.0" cy="122.6" r="6.47"/>
<circle cx="2658.0" cy="142.5" r="6.47"/>
<circle cx="2658.0" cy="168.4" r="6.47"/>
<circle cx="2658.0" cy="182.4" r="6.47"/>
<circle cx="2658.0" cy="185.8" r="6.47"/>
<circle cx="2658.0" cy="188.0" r="6.47"/>
<circle cx="2658.0" cy="190.2" r="6.47"/>
<circle cx="2658.0" cy="196.4" r="6.47"/>
<circle cx="2658.0" cy="214.5" r="6.47"/>
<circle cx="2658.0" cy="217.1" r="6.47"/>
<circle cx="2658.0" cy="219.3" r="6.47"/>
<circle cx="2658.0" cy="221.5" r="6.47"/>
<circle cx="2658.0" cy="88.7" r="6.47"/>
<circle cx="2676.7" cy="123.3" r="6.47"/>
<circle cx="2676.7" cy="127.8" r="6.47"/>
<circle cx="2676.7" cy="130.0" r="6.47"/>
<circle cx="2676.7" cy="132.2" r="6.47"/>
<circle cx="2676.7" cy="132.6" r="6.47"/>
<circle cx="2676.7" cy="134.8" r="6.47"/>
<circle cx="2676.7" cy="137.0" r="6.47"/>
<circle cx="2676.7" cy="140.6" r="6.47"/>
<circle cx="2676.7" cy="151.9" r="6.47"/>
<circle cx="2676.7" cy="154.1" r="6.47"/>
<circle cx="2676.7" cy="156.3" r="6.47"/>
<circle cx="2676.7" cy="155.7" r="6.47"/>
<circle cx="2676.7" cy="157.9" r="6.47"/>
<circle cx="2676.7" cy="160.1" r="6.47"/>
<circle cx="2676.7" cy="160.0" r="6.47"/>
<circle cx="2676.7" cy="96.8" r="6.47"/>
<circle cx="2695.3" cy="107.9" r="6.47"/>
<circle cx="2695.3" cy="115.6" r="6.47"/>
<circle cx="2695.3" cy="131.7" r="6.47"/>
<circle cx="2695.3" cy="133.9" r="6.47"/>
<circle cx="2695.3" cy="136.1" r="6.47"/>
<circle cx="2695.3" cy="153.8" r="6.47"/>
<circle cx="2695.3" cy="156.0" r="6.47"/>
<circle cx="2695.3" cy="158.2" r="6.47"/>
<circle cx="2695.3" cy="159.2" r="6.47"/>
<circle cx="2695.3" cy="161.4" r="6.47"/>
<circle cx="2695.3" cy="163.6" r="6.47"/>
<circle cx="2695.3" cy="97.0" r="6.47"/>
<circle cx="2714.0" cy="130.0" r="6.47"/>
<circle cx="2714.0" cy="153.1" r="6.47"/>
<circle cx="2714.0" cy="174.0" r="6.47"/>
<circle cx="2714.0" cy="181.0" r="6.47"/>
<circle cx="2714.0" cy="187.2" r="6.47"/>
<circle cx="2714.0" cy="189.4" r="6.47"/>
<circle cx="2714.0" cy="191.6" r="6.47"/>
<circle cx="2714.0" cy="201.2" r="6.47"/>
<circle cx="2714.0" cy="203.4" r="6.47"/>
<circle cx="2714.0" cy="205.6" r="6.47"/>
<circle cx="2714.0" cy="210.3" r="6.47"/>
<circle cx="2714.0" cy="215.9" r="6.47"/>
<circle cx="2714.0" cy="227.1" r="6.47"/>
<circle cx="2714.0" cy="232.7" r="6.47"/>
<circle cx="2714.0" cy="78.7" r="6.47"/>
<circle cx="2732.7" cy="120.4" r="6.47"/>
<circle cx="2732.7" cy="207.6" r="6.47"/>
<circle cx="2732.7" cy="227.1" r="6.47"/>
<circle cx="2732.7" cy="243.9" r="6.47"/>
<circle cx="2732.7" cy="255.1" r="6.47"/>
<circle cx="2732.7" cy="262.1" r="6.47"/>
<circle cx="2732.7" cy="268.3" r="6.47"/>
<circle cx="2732.7" cy="270.5" r="6.47"/>
<circle cx="2732.7" cy="272.7" r="6.47"/>
<circle cx="2732.7" cy="274.7" r="6.47"/>
<circle cx="2732.7" cy="77.5" r="6.47"/>
</g>
<path d="M262.35 85.03L275.45 98.13M262.35 98.13L275.45 85.03M281.01 69.26L294.12 82.36M281.01 82.36L294.12 69.26M299.68 71.57L312.78 84.67M299.68 84.67L312.78 71.57M318.34 84.45L331.44 97.55M318.34 97.55L331.44 84.45M337.01 75.99L350.11 89.09M337.01 89.09L350.11 75.99M355.67 69.26L368.77 82.36M355.67 82.36L368.77 69.26M374.34 69.26L387.44 82.36M374.34 82.36L387.44 69.26M393.00 69.26L406.10 82.36M393.00 82.36L406.10 69.26M411.67 69.26L424.77 82.36M411.67 82.36L424.77 69.26M430.33 69.26L443.44 82.36M430.33 82.36L443.44 69.26M449.00 69.26L462.10 82.36M449.00 82.36L462.10 69.26M467.66 69.26L480.76 82.36M467.66 82.36L480.76 69.26M486.33 69.26L499.43 82.36M486.33 82.36L499.43 69.26M504.99 69.26L518.09 82.36M504.99 82.36L518.09 69.26M523.66 69.26L536.76 82.36M523.66 82.36L536.76 69.26M542.33 69.26L555.42 82.36M542.33 82.36L555.42 69.26M560.99 69.26L574.09 82.36M560.99 82.36L574.09 69.26M579.65 78.87L592.75 91.97M579.65 91.97L592.75 78.87M598.32 94.83L611.42 107.93M598.32 107.93L611.42 94.83M616.99 69.64L630.08 82.74M616.99 82.74L630.08 69.64M635.65 91.76L648.75 104.86M635.65 104.86L648.75 91.76M654.32 81.76L667.41 94.86M654.32 94.86L667.41 81.76M672.98 79.26L686.08 92.36M672.98 92.36L686.08 79.26M691.64 85.03L704.74 98.13M691.64 98.13L704.74 85.03M710.31 69.26L723.41 82.36M710.31 82.36L723.41 69.26M728.98 84.07L742.07 97.17M728.98 97.17L742.07 84.07M747.64 90.22L760.74 103.32M747.64 103.32L760.74 90.22M766.31 78.68L779.40 91.78M766.31 91.78L779.40 78.68M784.97 79.26L798.07 92.36M784.97 92.36L798.07 79.26M803.63 88.87L816.73 101.97M803.63 101.97L816.73 88.87M822.30 85.03L835.40 98.13M822.30 98.13L835.40 85.03M840.97 72.53L854.06 85.63M840.97 85.63L854.06 72.53M859.63 106.18L872.73 119.28M859.63 119.28L872.73 106.18M878.29 78.30L891.39 91.40M878.29 91.40L891.39 78.30M896.96 85.03L910.06 98.13M896.96 98.13L910.06 85.03M915.62 88.87L928.72 101.97M915.62 101.97L928.72 88.87M934.29 81.18L947.39 94.28M934.29 94.28L947.39 81.18M952.96 80.80L966.05 93.90M952.96 93.90L966.05 80.80M971.62 70.60L984.72 83.70M971.62 83.70L984.72 70.60M990.28 69.26L1003.38 82.36M990.28 82.36L1003.38 69.26M1008.95 70.22L1022.05 83.32M1008.95 83.32L1022.05 70.22M1027.62 77.33L1040.71 90.43M1027.62 90.43L1040.71 77.33M1046.28 85.99L1059.38 99.09M1046.28 99.09L1059.38 85.99M1064.94 82.53L1078.04 95.63M1064.94 95.63L1078.04 82.53M1083.61 70.60L1096.71 83.70M1083.61 83.70L1096.71 70.60M1102.27 83.10L1115.37 96.20M1102.27 96.20L1115.37 83.10M1120.94 74.45L1134.04 87.55M1120.94 87.55L1134.04 74.45M1139.61 89.45L1152.70 102.55M1139.61 102.55L1152.70 89.45M1158.27 69.26L1171.37 82.36M1158.27 82.36L1171.37 69.26M1176.93 84.64L1190.03 97.74M1176.93 97.74L1190.03 84.64M1195.60 73.10L1208.70 86.20M1195.60 86.20L1208.70 73.10M1214.27 79.26L1227.37 92.36M1214.27 92.36L1227.37 79.26M1232.93 89.45L1246.03 102.55M1232.93 102.55L1246.03 89.45M1251.60 80.80L1264.69 93.90M1251.60 93.90L1264.69 80.80M1270.26 93.68L1283.36 106.78M1270.26 106.78L1283.36 93.68M1288.92 90.41L1302.02 103.51M1288.92 103.51L1302.02 90.41M1307.59 76.37L1320.69 89.47M1307.59 89.47L1320.69 76.37M1326.25 99.07L1339.35 112.17M1326.25 112.17L1339.35 99.07M1344.92 84.64L1358.02 97.74M1344.92 97.74L1358.02 84.64M1363.58 91.18L1376.68 104.28M1363.58 104.28L1376.68 91.18M1382.25 99.07L1395.35 112.17M1382.25 112.17L1395.35 99.07M1419.58 73.10L1432.68 86.20M1419.58 86.20L1432.68 73.10M1438.25 94.64L1451.35 107.74M1438.25 107.74L1451.35 94.64M1456.91 75.03L1470.01 88.13M1456.91 88.13L1470.01 75.03M1475.58 95.60L1488.67 108.70M1475.58 108.70L1488.67 95.60M1494.24 83.10L1507.34 96.20M1494.24 96.20L1507.34 83.10M1512.90 87.91L1526.00 101.01M1512.90 101.01L1526.00 87.91M1531.57 78.68L1544.67 91.78M1531.57 91.78L1544.67 78.68M1550.23 90.41L1563.33 103.51M1550.23 103.51L1563.33 90.41M1568.90 80.80L1582.00 93.90M1568.90 93.90L1582.00 80.80M1587.56 88.87L1600.66 101.97M1587.56 101.97L1600.66 88.87M1606.23 88.49L1619.33 101.59M1606.23 101.59L1619.33 88.49M1624.89 78.68L1637.99 91.78M1624.89 91.78L1637.99 78.68M1643.56 88.49L1656.66 101.59M1643.56 101.59L1656.66 88.49M1662.23 79.26L1675.33 92.36M1662.23 92.36L1675.33 79.26M1680.89 74.45L1693.99 87.55M1680.89 87.55L1693.99 74.45M1699.56 69.26L1712.65 82.36M1699.56 82.36L1712.65 69.26M1718.22 69.64L1731.32 82.74M1718.22 82.74L1731.32 69.64M1736.88 69.64L1749.98 82.74M1736.88 82.74L1749.98 69.64M1755.55 79.26L1768.65 92.36M1755.55 92.36L1768.65 79.26M1774.21 92.72L1787.31 105.82M1774.21 105.82L1787.31 92.72M1792.88 75.99L1805.98 89.09M1792.88 89.09L1805.98 75.99M1811.54 80.22L1824.64 93.32M1811.54 93.32L1824.64 80.22M1830.21 85.41L1843.31 98.51M1830.21 98.51L1843.31 85.41M1848.87 96.18L1861.97 109.28M1848.87 109.28L1861.97 96.18M1867.54 83.10L1880.64 96.20M1867.54 96.20L1880.64 83.10M1886.21 73.49L1899.31 86.59M1886.21 86.59L1899.31 73.49M1904.87 98.49L1917.97 111.59M1904.87 111.59L1917.97 98.49M1923.54 69.26L1936.63 82.36M1923.54 82.36L1936.63 69.26M1942.20 84.07L1955.30 97.17M1942.20 97.17L1955.30 84.07M1960.87 90.80L1973.96 103.90M1960.87 103.90L1973.96 90.80M1979.53 86.37L1992.63 99.47M1979.53 99.47L1992.63 86.37M1998.19 90.80L2011.29 103.90M1998.19 103.90L2011.29 90.80M2016.86 74.45L2029.96 87.55M2016.86 87.55L2029.96 74.45M2035.52 89.45L2048.62 102.55M2035.52 102.55L2048.62 89.45M2054.19 73.87L2067.29 86.97M2054.19 86.97L2067.29 73.87M2072.85 98.87L2085.95 111.97M2072.85 111.97L2085.95 98.87M2091.52 87.91L2104.62 101.01M2091.52 101.01L2104.62 87.91M2110.18 96.57L2123.28 109.67M2110.18 109.67L2123.28 96.57M2128.85 84.07L2141.95 97.17M2128.85 97.17L2141.95 84.07M2147.51 73.10L2160.62 86.20M2147.51 86.20L2160.62 73.10M2166.18 83.49L2179.28 96.59M2166.18 96.59L2179.28 83.49M2184.84 75.03L2197.95 88.13M2184.84 88.13L2197.95 75.03M2203.51 81.57L2216.61 94.67M2203.51 94.67L2216.61 81.57M2222.17 92.14L2235.28 105.24M2222.17 105.24L2235.28 92.14M2240.84 71.95L2253.94 85.05M2240.84 85.05L2253.94 71.95M2259.50 80.60L2272.61 93.70M2259.50 93.70L2272.61 80.60M2278.17 81.57L2291.27 94.67M2278.17 94.67L2291.27 81.57M2296.83 69.64L2309.93 82.74M2296.83 82.74L2309.93 69.64M2315.50 71.18L2328.60 84.28M2315.50 84.28L2328.60 71.18M2334.16 84.64L2347.27 97.74M2334.16 97.74L2347.27 84.64M2352.83 74.45L2365.93 87.55M2352.83 87.55L2365.93 74.45M2371.49 75.03L2384.60 88.13M2371.49 88.13L2384.60 75.03M2390.16 69.26L2403.26 82.36M2390.16 82.36L2403.26 69.26M2408.82 69.64L2421.93 82.74M2408.82 82.74L2421.93 69.64M2427.49 69.26L2440.59 82.36M2427.49 82.36L2440.59 69.26M2446.15 86.57L2459.26 99.67M2446.15 99.67L2459.26 86.57M2464.82 81.18L2477.92 94.28M2464.82 94.28L2477.92 81.18M2483.48 85.41L2496.59 98.51M2483.48 98.51L2496.59 85.41M2502.15 90.41L2515.25 103.51M2502.15 103.51L2515.25 90.41M2520.81 92.14L2533.91 105.24M2520.81 105.24L2533.91 92.14" stroke="#000" stroke-width="2.4" fill="none"/>
<path d="M2539.48 93.68L2552.58 106.78M2539.48 106.78L2552.58 93.68M2558.14 79.83L2571.25 92.93M2558.14 92.93L2571.25 79.83M2576.81 99.07L2589.91 112.17M2576.81 112.17L2589.91 99.07M2595.47 94.26L2608.58 107.36M2595.47 107.36L2608.58 94.26M2614.14 90.22L2627.24 103.32M2614.14 103.32L2627.24 90.22M2632.80 104.64L2645.91 117.74M2632.80 117.74L2645.91 104.64M2651.47 82.14L2664.57 95.24M2651.47 95.24L2664.57 82.14M2670.13 90.22L2683.24 103.32M2670.13 103.32L2683.24 90.22M2688.80 90.41L2701.90 103.51M2688.80 103.51L2701.90 90.41M2707.46 72.14L2720.57 85.24M2707.46 85.24L2720.57 72.14M2726.13 70.99L2739.23 84.09M2726.13 84.09L2739.23 70.99" stroke="#f00" stroke-width="2.4" fill="none"/>
<circle cx="1407.47" cy="109.85" r="4.4" fill="#f00"/>
<rect x="145.95" y="56.5" width="2710.05" height="425.45" fill="none" stroke="#000" stroke-width="1.78"/>
<path d="M268.90 481.95v7.78M287.56 481.95v7.78M306.23 481.95v7.78M324.89 481.95v7.78M343.56 481.95v7.78M362.22 481.95v7.78M380.89 481.95v7.78M399.55 481.95v7.78M418.22 481.95v7.78M436.88 481.95v7.78M455.55 481.95v7.78M474.21 481.95v7.78M492.88 481.95v7.78M511.54 481.95v7.78M530.21 481.95v7.78M548.88 481.95v7.78M567.54 481.95v7.78M586.20 481.95v7.78M604.87 481.95v7.78M623.53 481.95v7.78M642.20 481.95v7.78M660.87 481.95v7.78M679.53 481.95v7.78M698.19 481.95v7.78M716.86 481.95v7.78M735.52 481.95v7.78M754.19 481.95v7.78M772.86 481.95v7.78M791.52 481.95v7.78M810.18 481.95v7.78M828.85 481.95v7.78M847.51 481.95v7.78M866.18 481.95v7.78M884.84 481.95v7.78M903.51 481.95v7.78M922.17 481.95v7.78M940.84 481.95v7.78M959.50 481.95v7.78M978.17 481.95v7.78M996.83 481.95v7.78M1015.50 481.95v7.78M1034.16 481.95v7.78M1052.83 481.95v7.78M1071.49 481.95v7.78M1090.16 481.95v7.78M1108.82 481.95v7.78M1127.49 481.95v7.78M1146.15 481.95v7.78M1164.82 481.95v7.78M1183.48 481.95v7.78M1202.15 481.95v7.78M1220.82 481.95v7.78M1239.48 481.95v7.78M1258.14 481.95v7.78M1276.81 481.95v7.78M1295.47 481.95v7.78M1314.14 481.95v7.78M1332.80 481.95v7.78M1351.47 481.95v7.78M1370.13 481.95v7.78M1388.80 481.95v7.78M1407.47 481.95v7.78M1426.13 481.95v7.78M1444.80 481.95v7.78M1463.46 481.95v7.78M1482.12 481.95v7.78M1500.79 481.95v7.78M1519.45 481.95v7.78M1538.12 481.95v7.78M1556.78 481.95v7.78M1575.45 481.95v7.78M1594.11 481.95v7.78M1612.78 481.95v7.78M1631.44 481.95v7.78M1650.11 481.95v7.78M1668.78 481.95v7.78M1687.44 481.95v7.78M1706.11 481.95v7.78M1724.77 481.95v7.78M1743.43 481.95v7.78M1762.10 481.95v7.78M1780.76 481.95v7.78M1799.43 481.95v7.78M1818.09 481.95v7.78M1836.76 481.95v7.78M1855.42 481.95v7.78M1874.09 481.95v7.78M1892.76 481.95v7.78M1911.42 481.95v7.78M1930.09 481.95v7.78M1948.75 481.95v7.78M1967.41 481.95v7.78M1986.08 481.95v7.78M2004.74 481.95v7.78M2023.41 481.95v7.78M2042.07 481.95v7.78M2060.74 481.95v7.78M2079.40 481.95v7.78M2098.07 481.95v7.78M2116.73 481.95v7.78M2135.40 481.95v7.78M2154.07 481.95v7.78M2172.73 481.95v7.78M2191.39 481.95v7.78M2210.06 481.95v7.78M2228.72 481.95v7.78M2247.39 481.95v7.78M2266.05 481.95v7.78M2284.72 481.95v7.78M2303.38 481.95v7.78M2322.05 481.95v7.78M2340.72 481.95v7.78M2359.38 481.95v7.78M2378.05 481.95v7.78M2396.71 481.95v7.78M2415.38 481.95v7.78M2434.04 481.95v7.78M2452.70 481.95v7.78M2471.37 481.95v7.78M2490.03 481.95v7.78M2508.70 481.95v7.78M2527.36 481.95v7.78M2546.03 481.95v7.78M2564.70 481.95v7.78M2583.36 481.95v7.78M2602.03 481.95v7.78M2620.69 481.95v7.78M2639.36 481.95v7.78M2658.02 481.95v7.78M2676.68 481.95v7.78M2695.35 481.95v7.78M2714.01 481.95v7.78M2732.68 481.95v7.78M145.95 75.85h-7.78M145.95 201.5h-7.78M145.95 327.15h-7.78M145.95 452.95h-7.78" stroke="#000" stroke-width="1.78" fill="none"/>
<g font-family="DejaVu Sans, Liberation Sans, sans-serif" fill="#000">
<text x="1500.8" y="43.1" font-size="26.67" text-anchor="middle">Token probability, GPT-OSS (20B), temperature = 0.009802246093750001, seed = 2</text>
<text x="130.3" y="84.50" font-size="22.22" text-anchor="end">1e+00</text>
<text x="130.3" y="210.15" font-size="22.22" text-anchor="end">1e-03</text>
<text x="130.3" y="335.80" font-size="22.22" text-anchor="end">1e-06</text>
<text x="130.3" y="461.60" font-size="22.22" text-anchor="end">1e-09</text>
<text transform="translate(41.8 268.6) rotate(-90)" font-size="22.22" text-anchor="middle">probability (log scaling)</text>
<g font-size="15.56" text-anchor="end">
<text transform="translate(273.60 497.4) rotate(-90)">"The"</text>
<text transform="translate(292.26 497.4) rotate(-90)">" user"</text>
<text transform="translate(310.93 497.4) rotate(-90)">" says"</text>
<text transform="translate(329.59 497.4) rotate(-90)">" ""</text>
<text transform="translate(348.26 497.4) rotate(-90)">"I'm"</text>
<text transform="translate(366.92 497.4) rotate(-90)">" bored"</text>
<text transform="translate(385.59 497.4) rotate(-90)">"."</text>
<text transform="translate(404.25 497.4) rotate(-90)">" Have"</text>
<text transform="translate(422.92 497.4) rotate(-90)">" you"</text>
<text transform="translate(441.58 497.4) rotate(-90)">" heard"</text>
<text transform="translate(460.25 497.4) rotate(-90)">" of"</text>
<text transform="translate(478.91 497.4) rotate(-90)">" the"</text>
<text transform="translate(497.58 497.4) rotate(-90)">" board"</text>
<text transform="translate(516.25 497.4) rotate(-90)">" game"</text>
<text transform="translate(534.91 497.4) rotate(-90)">" Battles"</text>
<text transform="translate(553.58 497.4) rotate(-90)">"hip"</text>
<text transform="translate(572.24 497.4) rotate(-90)">"?""</text>
<text transform="translate(590.90 497.4) rotate(-90)">" They"</text>
<text transform="translate(609.57 497.4) rotate(-90)">" likely"</text>
<text transform="translate(628.24 497.4) rotate(-90)">" want"</text>
<text transform="translate(646.90 497.4) rotate(-90)">" a"</text>
<text transform="translate(665.57 497.4) rotate(-90)">" conversation"</text>
<text transform="translate(684.23 497.4) rotate(-90)">" about"</text>
<text transform="translate(702.89 497.4) rotate(-90)">" Battles"</text>
<text transform="translate(721.56 497.4) rotate(-90)">"hip"</text>
<text transform="translate(740.23 497.4) rotate(-90)">"."</text>
<text transform="translate(758.89 497.4) rotate(-90)">" We"</text>
<text transform="translate(777.56 497.4) rotate(-90)">" can"</text>
<text transform="translate(796.22 497.4) rotate(-90)">" respond"</text>
<text transform="translate(814.88 497.4) rotate(-90)">" with"</text>
<text transform="translate(833.55 497.4) rotate(-90)">" a"</text>
<text transform="translate(852.22 497.4) rotate(-90)">" friendly"</text>
<text transform="translate(870.88 497.4) rotate(-90)">" answer"</text>
<text transform="translate(889.54 497.4) rotate(-90)">","</text>
<text transform="translate(908.21 497.4) rotate(-90)">" maybe"</text>
<text transform="translate(926.88 497.4) rotate(-90)">" ask"</text>
<text transform="translate(945.54 497.4) rotate(-90)">" if"</text>
<text transform="translate(964.21 497.4) rotate(-90)">" they"</text>
<text transform="translate(982.87 497.4) rotate(-90)">" want"</text>
<text transform="translate(1001.53 497.4) rotate(-90)">" to"</text>
<text transform="translate(1020.20 497.4) rotate(-90)">" play"</text>
<text transform="translate(1038.87 497.4) rotate(-90)">" a"</text>
<text transform="translate(1057.53 497.4) rotate(-90)">" text"</text>
<text transform="translate(1076.19 497.4) rotate(-90)">"-based"</text>
<text transform="translate(1094.86 497.4) rotate(-90)">" version"</text>
<text transform="translate(1113.52 497.4) rotate(-90)">","</text>
<text transform="translate(1132.19 497.4) rotate(-90)">" or"</text>
<text transform="translate(1150.86 497.4) rotate(-90)">" talk"</text>
<text transform="translate(1169.52 497.4) rotate(-90)">" about"</text>
<text transform="translate(1188.18 497.4) rotate(-90)">" the"</text>
<text transform="translate(1206.85 497.4) rotate(-90)">" game"</text>
<text transform="translate(1225.52 497.4) rotate(-90)">"."</text>
<text transform="translate(1244.18 497.4) rotate(-90)">" We"</text>
<text transform="translate(1262.85 497.4) rotate(-90)">" can"</text>
<text transform="translate(1281.51 497.4) rotate(-90)">" also"</text>
<text transform="translate(1300.17 497.4) rotate(-90)">" propose"</text>
<text transform="translate(1318.84 497.4) rotate(-90)">" a"</text>
<text transform="translate(1337.50 497.4) rotate(-90)">" quick"</text>
<text transform="translate(1356.17 497.4) rotate(-90)">" game"</text>
<text transform="translate(1374.83 497.4) rotate(-90)">" or"</text>
<text transform="translate(1393.50 497.4) rotate(-90)">" a"</text>
<text transform="translate(1412.17 497.4) rotate(-90)">" variant"</text>
<text transform="translate(1430.83 497.4) rotate(-90)">"."</text>
<text transform="translate(1449.50 497.4) rotate(-90)">" The"</text>
<text transform="translate(1468.16 497.4) rotate(-90)">" user"</text>
<text transform="translate(1486.83 497.4) rotate(-90)">" might"</text>
<text transform="translate(1505.49 497.4) rotate(-90)">" want"</text>
<text transform="translate(1524.15 497.4) rotate(-90)">" to"</text>
<text transform="translate(1542.82 497.4) rotate(-90)">" play"</text>
<text transform="translate(1561.48 497.4) rotate(-90)">" a"</text>
<text transform="translate(1580.15 497.4) rotate(-90)">" game"</text>
<text transform="translate(1598.81 497.4) rotate(-90)">"."</text>
<text transform="translate(1617.48 497.4) rotate(-90)">" We"</text>
<text transform="translate(1636.14 497.4) rotate(-90)">" can"</text>
<text transform="translate(1654.81 497.4) rotate(-90)">" ask"</text>
<text transform="translate(1673.48 497.4) rotate(-90)">" if"</text>
<text transform="translate(1692.14 497.4) rotate(-90)">" they'd"</text>
<text transform="translate(1710.81 497.4) rotate(-90)">" like"</text>
<text transform="translate(1729.47 497.4) rotate(-90)">" to"</text>
<text transform="translate(1748.13 497.4) rotate(-90)">" play"</text>
<text transform="translate(1766.80 497.4) rotate(-90)">" a"</text>
<text transform="translate(1785.46 497.4) rotate(-90)">" text"</text>
<text transform="translate(1804.13 497.4) rotate(-90)">"-based"</text>
<text transform="translate(1822.79 497.4) rotate(-90)">" version"</text>
<text transform="translate(1841.46 497.4) rotate(-90)">"."</text>
<text transform="translate(1860.12 497.4) rotate(-90)">" Or"</text>
<text transform="translate(1878.79 497.4) rotate(-90)">" we"</text>
<text transform="translate(1897.46 497.4) rotate(-90)">" can"</text>
<text transform="translate(1916.12 497.4) rotate(-90)">" talk"</text>
<text transform="translate(1934.79 497.4) rotate(-90)">" about"</text>
<text transform="translate(1953.45 497.4) rotate(-90)">" the"</text>
<text transform="translate(1972.12 497.4) rotate(-90)">" history"</text>
<text transform="translate(1990.78 497.4) rotate(-90)">","</text>
<text transform="translate(2009.44 497.4) rotate(-90)">" strategies"</text>
<text transform="translate(2028.11 497.4) rotate(-90)">","</text>
<text transform="translate(2046.77 497.4) rotate(-90)">" etc"</text>
<text transform="translate(2065.44 497.4) rotate(-90)">"."</text>
<text transform="translate(2084.10 497.4) rotate(-90)">" Let's"</text>
<text transform="translate(2102.77 497.4) rotate(-90)">" respond"</text>
<text transform="translate(2121.43 497.4) rotate(-90)">" with"</text>
<text transform="translate(2140.10 497.4) rotate(-90)">" a"</text>
<text transform="translate(2158.76 497.4) rotate(-90)">" friendly"</text>
<text transform="translate(2177.43 497.4) rotate(-90)">" tone"</text>
<text transform="translate(2196.09 497.4) rotate(-90)">","</text>
<text transform="translate(2214.76 497.4) rotate(-90)">" mention"</text>
<text transform="translate(2233.42 497.4) rotate(-90)">" we"</text>
<text transform="translate(2252.09 497.4) rotate(-90)">" know"</text>
<text transform="translate(2270.75 497.4) rotate(-90)">" about"</text>
<text transform="translate(2289.42 497.4) rotate(-90)">" Battles"</text>
<text transform="translate(2308.08 497.4) rotate(-90)">"hip"</text>
<text transform="translate(2326.75 497.4) rotate(-90)">","</text>
<text transform="translate(2345.41 497.4) rotate(-90)">" ask"</text>
<text transform="translate(2364.08 497.4) rotate(-90)">" if"</text>
<text transform="translate(2382.74 497.4) rotate(-90)">" they'd"</text>
<text transform="translate(2401.41 497.4) rotate(-90)">" like"</text>
<text transform="translate(2420.07 497.4) rotate(-90)">" to"</text>
<text transform="translate(2438.74 497.4) rotate(-90)">" play"</text>
<text transform="translate(2457.40 497.4) rotate(-90)">" a"</text>
<text transform="translate(2476.07 497.4) rotate(-90)">" quick"</text>
<text transform="translate(2494.73 497.4) rotate(-90)">" game"</text>
<text transform="translate(2513.40 497.4) rotate(-90)">"."</text>
<text transform="translate(2532.06 497.4) rotate(-90)">" Provide"</text>
<text transform="translate(2550.73 497.4) rotate(-90)">" instructions"</text>
<text transform="translate(2569.39 497.4) rotate(-90)">"."</text>
<text transform="translate(2588.06 497.4) rotate(-90)">" Also"</text>
<text transform="translate(2606.72 497.4) rotate(-90)">" maybe"</text>
<text transform="translate(2625.39 497.4) rotate(-90)">" mention"</text>
<text transform="translate(2644.05 497.4) rotate(-90)">" variants"</text>
<text transform="translate(2662.72 497.4) rotate(-90)">"."</text>
<text transform="translate(2681.38 497.4) rotate(-90)">" Let's"</text>
<text transform="translate(2700.05 497.4) rotate(-90)">" do"</text>
<text transform="translate(2718.71 497.4) rotate(-90)">" that"</text>
<text transform="translate(2737.38 497.4) rotate(-90)">"."</text>
</g>
</g>
<rect x="2487.6" y="366.6" width="357.4" height="103.8" rx="4.4" fill="#fff" fill-opacity="0.8" stroke="#ccc" stroke-opacity="0.8" stroke-width="2.2"/>
<path d="M2512.0499999999997 377.75L2525.15 390.85M2512.0499999999997 390.85L2525.15 377.75" stroke="#000" stroke-width="2.4" fill="none"/>
<circle cx="2518.6" cy="417.0" r="4.5" fill="#000"/>
<path d="M2512.0499999999997 442.55L2525.15 455.65000000000003M2512.0499999999997 455.65000000000003L2525.15 442.55" stroke="#f00" stroke-width="2.4" fill="none"/>
<g font-family="DejaVu Sans, Liberation Sans, sans-serif" fill="#000" font-size="22.22">
<text x="2558.8" y="392.7">most likely token</text>
<text x="2558.8" y="425.3">alternative token</text>
<text x="2558.8" y="457.8">divergent from temp = 0</text>
</g>
</svg>
</body></html>
